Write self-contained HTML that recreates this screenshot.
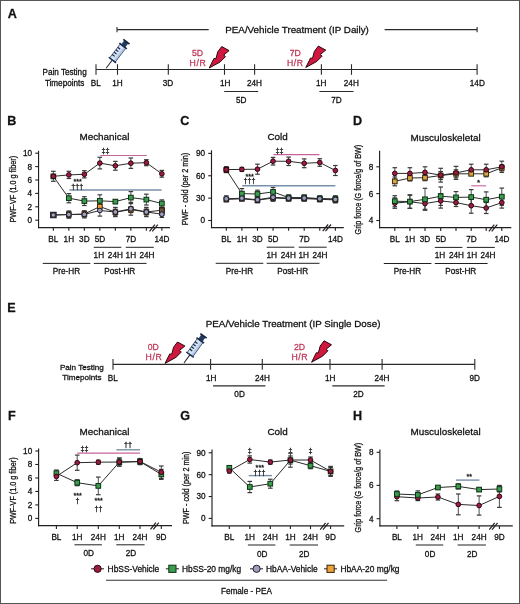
<!DOCTYPE html><html><head><meta charset="utf-8"><style>html,body{margin:0;padding:0;background:#fff;}svg{display:block;will-change:transform;}text{font-family:"Liberation Sans", sans-serif;stroke:currentColor;stroke-width:0.28px;}</style></head><body>
<svg width="520" height="604" viewBox="0 0 520 604">
<rect x="0" y="0" width="520" height="604" fill="#fff"/>
<rect x="0.5" y="0.5" width="519" height="603" fill="none" stroke="#555555" stroke-width="1"/>
<text x="7.7" y="17.8" font-size="12.6" text-anchor="start" fill="#111" color="#111" font-weight="bold" stroke="#111" stroke-width="0.35">A</text>
<line x1="117" y1="29.6" x2="208.7" y2="29.6" stroke="#2a2a2a" stroke-width="1.2"/>
<line x1="384.6" y1="29.6" x2="477.1" y2="29.6" stroke="#2a2a2a" stroke-width="1.2"/>
<line x1="117" y1="27" x2="117" y2="32.2" stroke="#2a2a2a" stroke-width="1.1"/>
<line x1="477.1" y1="27" x2="477.1" y2="32.2" stroke="#2a2a2a" stroke-width="1.1"/>
<text x="225.3" y="33.2" font-size="9.8" text-anchor="start" fill="#111111" color="#111111">PEA/Vehicle Treatment (IP Daily)</text>
<line x1="96" y1="69.5" x2="477.1" y2="69.5" stroke="#2a2a2a" stroke-width="1.2"/>
<line x1="96" y1="64.2" x2="96" y2="74.8" stroke="#2a2a2a" stroke-width="1.1"/>
<line x1="117.5" y1="64.2" x2="117.5" y2="74.8" stroke="#2a2a2a" stroke-width="1.1"/>
<line x1="168.3" y1="64.2" x2="168.3" y2="74.8" stroke="#2a2a2a" stroke-width="1.1"/>
<line x1="224.5" y1="64.2" x2="224.5" y2="74.8" stroke="#2a2a2a" stroke-width="1.1"/>
<line x1="254.6" y1="64.2" x2="254.6" y2="74.8" stroke="#2a2a2a" stroke-width="1.1"/>
<line x1="321.4" y1="64.2" x2="321.4" y2="74.8" stroke="#2a2a2a" stroke-width="1.1"/>
<line x1="351.5" y1="64.2" x2="351.5" y2="74.8" stroke="#2a2a2a" stroke-width="1.1"/>
<line x1="477.1" y1="64.2" x2="477.1" y2="74.8" stroke="#2a2a2a" stroke-width="1.1"/>
<text x="95.8" y="85.8" font-size="8.2" text-anchor="middle" fill="#111111" color="#111111">BL</text>
<text x="117.5" y="85.8" font-size="8.2" text-anchor="middle" fill="#111111" color="#111111">1H</text>
<text x="168" y="85.8" font-size="8.2" text-anchor="middle" fill="#111111" color="#111111">3D</text>
<text x="225.2" y="85.8" font-size="8.2" text-anchor="middle" fill="#111111" color="#111111">1H</text>
<text x="254.4" y="85.8" font-size="8.2" text-anchor="middle" fill="#111111" color="#111111">24H</text>
<text x="321.3" y="85.8" font-size="8.2" text-anchor="middle" fill="#111111" color="#111111">1H</text>
<text x="351.3" y="85.8" font-size="8.2" text-anchor="middle" fill="#111111" color="#111111">24H</text>
<text x="477.3" y="85.8" font-size="8.2" text-anchor="middle" fill="#111111" color="#111111">14D</text>
<text x="64.6" y="75.2" font-size="8.15" text-anchor="middle" fill="#111111" color="#111111">Pain Testing</text>
<text x="64.6" y="85.6" font-size="8.15" text-anchor="middle" fill="#111111" color="#111111">Timepoints</text>
<line x1="224.2" y1="91.4" x2="258.2" y2="91.4" stroke="#2a2a2a" stroke-width="1.05"/>
<line x1="319.4" y1="91.4" x2="353.5" y2="91.4" stroke="#2a2a2a" stroke-width="1.05"/>
<text x="241.2" y="102.7" font-size="8.2" text-anchor="middle" fill="#111111" color="#111111">5D</text>
<text x="336.4" y="102.7" font-size="8.2" text-anchor="middle" fill="#111111" color="#111111">7D</text>
<g transform="translate(106.1 68.2) rotate(-52.5)">
<defs><linearGradient id="bg106" x1="0" y1="0" x2="0" y2="1"><stop offset="0" stop-color="#c9daf0"/><stop offset="0.45" stop-color="#dce8f6"/><stop offset="1" stop-color="#a2bce0"/></linearGradient></defs>
<line x1="0" y1="0" x2="10.3" y2="0" stroke="#1a1a2a" stroke-width="0.95"/>
<rect x="10.3" y="-3.5" width="17.4" height="7" fill="url(#bg106)" stroke="#2b3c63" stroke-width="0.7"/>
<line x1="10.3" y1="-4.6" x2="10.3" y2="4.6" stroke="#1d2b4d" stroke-width="1.4"/>
<line x1="14.6" y1="-3.5" x2="14.6" y2="-0.4" stroke="#18264a" stroke-width="1.2"/>
<line x1="17.6" y1="-3.5" x2="17.6" y2="-0.4" stroke="#18264a" stroke-width="1.2"/>
<line x1="20.6" y1="-3.5" x2="20.6" y2="-0.4" stroke="#18264a" stroke-width="1.2"/>
<line x1="23.6" y1="-3.5" x2="23.6" y2="-0.4" stroke="#18264a" stroke-width="1.2"/>
<line x1="27.9" y1="-4.7" x2="27.9" y2="4.7" stroke="#1a2a4c" stroke-width="1.6"/>
<rect x="27.9" y="-2.2" width="5.2" height="4.4" fill="#203a60" stroke="#14223d" stroke-width="0.5"/>
<line x1="33.4" y1="-3.9" x2="33.4" y2="3.9" stroke="#14223d" stroke-width="1.7"/>
</g>
<polygon points="209.2,68 213.95,58.5 215.9,58.8 217.8,51.8 221.7,46.6 229.1,50.6 223.7,55 225.5,56.6 220.1,62 209.2,68" fill="#d0183e" stroke="#2a0810" stroke-width="1.0" stroke-linejoin="miter"/>
<polygon points="305.8,67.5 310.55,58 312.5,58.3 314.4,51.3 318.3,46.1 325.7,50.1 320.3,54.5 322.1,56.1 316.7,61.5 305.8,67.5" fill="#d0183e" stroke="#2a0810" stroke-width="1.0" stroke-linejoin="miter"/>
<text x="197.5" y="55.6" font-size="8.7" text-anchor="middle" fill="#bf3a5a" color="#bf3a5a">5D</text>
<text x="198" y="65.9" font-size="8.7" text-anchor="middle" fill="#bf3a5a" color="#bf3a5a" letter-spacing="0.6">H/R</text>
<text x="295.3" y="55.6" font-size="8.7" text-anchor="middle" fill="#bf3a5a" color="#bf3a5a">7D</text>
<text x="295.3" y="65.9" font-size="8.7" text-anchor="middle" fill="#bf3a5a" color="#bf3a5a" letter-spacing="0.6">H/R</text>
<text x="7.2" y="124.7" font-size="12.6" text-anchor="start" fill="#111" color="#111" font-weight="bold" stroke="#111" stroke-width="0.35">B</text>
<text x="104.4" y="140.4" font-size="9.9" text-anchor="middle" fill="#111111" color="#111111">Mechanical</text>
<line x1="38.55" y1="150.8" x2="38.55" y2="228.2" stroke="#231f20" stroke-width="1.15"/>
<line x1="38" y1="227.6" x2="170" y2="227.6" stroke="#231f20" stroke-width="1.25"/>
<line x1="35.25" y1="220.2" x2="38.55" y2="220.2" stroke="#231f20" stroke-width="1.1"/>
<text x="32.15" y="223.1" font-size="8.2" text-anchor="end" fill="#111111" color="#111111">0</text>
<line x1="35.25" y1="206.8" x2="38.55" y2="206.8" stroke="#231f20" stroke-width="1.1"/>
<text x="32.15" y="209.7" font-size="8.2" text-anchor="end" fill="#111111" color="#111111">2</text>
<line x1="35.25" y1="193.4" x2="38.55" y2="193.4" stroke="#231f20" stroke-width="1.1"/>
<text x="32.15" y="196.3" font-size="8.2" text-anchor="end" fill="#111111" color="#111111">4</text>
<line x1="35.25" y1="180" x2="38.55" y2="180" stroke="#231f20" stroke-width="1.1"/>
<text x="32.15" y="182.9" font-size="8.2" text-anchor="end" fill="#111111" color="#111111">6</text>
<line x1="35.25" y1="166.6" x2="38.55" y2="166.6" stroke="#231f20" stroke-width="1.1"/>
<text x="32.15" y="169.5" font-size="8.2" text-anchor="end" fill="#111111" color="#111111">8</text>
<line x1="35.25" y1="153.2" x2="38.55" y2="153.2" stroke="#231f20" stroke-width="1.1"/>
<text x="32.15" y="156.1" font-size="8.2" text-anchor="end" fill="#111111" color="#111111">10</text>
<line x1="53.35" y1="227.6" x2="53.35" y2="230.8" stroke="#231f20" stroke-width="1.1"/>
<line x1="68.85" y1="227.6" x2="68.85" y2="230.8" stroke="#231f20" stroke-width="1.1"/>
<line x1="84.35" y1="227.6" x2="84.35" y2="230.8" stroke="#231f20" stroke-width="1.1"/>
<line x1="99.85" y1="227.6" x2="99.85" y2="230.8" stroke="#231f20" stroke-width="1.1"/>
<line x1="115.35" y1="227.6" x2="115.35" y2="230.8" stroke="#231f20" stroke-width="1.1"/>
<line x1="130.85" y1="227.6" x2="130.85" y2="230.8" stroke="#231f20" stroke-width="1.1"/>
<line x1="146.35" y1="227.6" x2="146.35" y2="230.8" stroke="#231f20" stroke-width="1.1"/>
<line x1="161.85" y1="227.6" x2="161.85" y2="230.8" stroke="#231f20" stroke-width="1.1"/>
<text x="53.35" y="242.1" font-size="8.2" text-anchor="middle" fill="#111111" color="#111111">BL</text>
<text x="68.85" y="242.1" font-size="8.2" text-anchor="middle" fill="#111111" color="#111111">1H</text>
<text x="84.35" y="242.1" font-size="8.2" text-anchor="middle" fill="#111111" color="#111111">3D</text>
<text x="100.05" y="242.1" font-size="8.2" text-anchor="middle" fill="#111111" color="#111111">5D</text>
<text x="131.05" y="242.1" font-size="8.2" text-anchor="middle" fill="#111111" color="#111111">7D</text>
<text x="161.95" y="242.1" font-size="8.2" text-anchor="middle" fill="#111111" color="#111111">14D</text>
<line x1="149.5" y1="231.3" x2="154.9" y2="224.6" stroke="#231f20" stroke-width="1.2"/>
<line x1="152.3" y1="231.3" x2="157.8" y2="224.6" stroke="#231f20" stroke-width="1.2"/>
<text transform="translate(15.6 189.2) rotate(-90) scale(0.87 1)" font-size="8.3" text-anchor="middle" fill="#111111" color="#111111">PWF-VF (1.0 g fiber)</text>
<line x1="93.75" y1="247.3" x2="121.35" y2="247.3" stroke="#231f20" stroke-width="1"/>
<line x1="125.75" y1="247.3" x2="153.75" y2="247.3" stroke="#231f20" stroke-width="1"/>
<text x="98.85" y="257.9" font-size="8.2" text-anchor="middle" fill="#111111" color="#111111">1H</text>
<text x="115.35" y="257.9" font-size="8.2" text-anchor="middle" fill="#111111" color="#111111">24H</text>
<text x="130.85" y="257.9" font-size="8.2" text-anchor="middle" fill="#111111" color="#111111">1H</text>
<text x="146.95" y="257.9" font-size="8.2" text-anchor="middle" fill="#111111" color="#111111">24H</text>
<line x1="42.75" y1="263.4" x2="90.35" y2="263.4" stroke="#231f20" stroke-width="1"/>
<line x1="93.75" y1="263.4" x2="146.55" y2="263.4" stroke="#231f20" stroke-width="1"/>
<text x="66.45" y="273.8" font-size="8.2" text-anchor="middle" fill="#111111" color="#111111">Pre-HR</text>
<text x="119.75" y="273.8" font-size="8.2" text-anchor="middle" fill="#111111" color="#111111">Post-HR</text>
<line x1="100.3" y1="155.5" x2="146.8" y2="155.5" stroke="#c8649c" stroke-width="1.2"/>
<text x="105.6" y="153.4" font-size="7.2" text-anchor="middle" fill="#111111" color="#111111">‡‡</text>
<line x1="69.4" y1="190" x2="161.6" y2="190" stroke="#7890a8" stroke-width="1.4"/>
<text x="77.6" y="183.6" font-size="7.2" text-anchor="middle" fill="#111111" color="#111111">***</text>
<text x="77.3" y="189.2" font-size="7.2" text-anchor="middle" fill="#111111" color="#111111">†††</text>
<polyline points="53.35,215 68.85,214.5 84.35,214 99.85,206.6 115.35,212.2 130.85,209.6 146.35,212 161.85,210.2" fill="none" stroke="#2b2b2b" stroke-width="1" stroke-linejoin="round"/>
<polyline points="53.35,215 68.85,214.6 84.35,214.4 99.85,210.5 115.35,212 130.85,208.8 146.35,212 161.85,214.2" fill="none" stroke="#2b2b2b" stroke-width="1" stroke-linejoin="round"/>
<polyline points="53.35,176.4 68.85,198.2 84.35,201.1 99.85,200.8 115.35,201.6 130.85,197.6 146.35,199.6 161.85,203.5" fill="none" stroke="#2b2b2b" stroke-width="1" stroke-linejoin="round"/>
<polyline points="53.35,176.3 68.85,174.9 84.35,174.3 99.85,163.1 115.35,165.8 130.85,163.2 146.35,162.7 161.85,173.8" fill="none" stroke="#2b2b2b" stroke-width="1" stroke-linejoin="round"/>
<line x1="53.35" y1="214" x2="53.35" y2="216" stroke="#3a3a3a" stroke-width="0.9"/>
<line x1="51.05" y1="214" x2="55.65" y2="214" stroke="#3a3a3a" stroke-width="1.2"/>
<line x1="51.05" y1="216" x2="55.65" y2="216" stroke="#3a3a3a" stroke-width="1.2"/>
<line x1="68.85" y1="211.5" x2="68.85" y2="217.5" stroke="#3a3a3a" stroke-width="0.9"/>
<line x1="66.55" y1="211.5" x2="71.15" y2="211.5" stroke="#3a3a3a" stroke-width="1.2"/>
<line x1="66.55" y1="217.5" x2="71.15" y2="217.5" stroke="#3a3a3a" stroke-width="1.2"/>
<line x1="84.35" y1="211" x2="84.35" y2="217" stroke="#3a3a3a" stroke-width="0.9"/>
<line x1="82.05" y1="211" x2="86.65" y2="211" stroke="#3a3a3a" stroke-width="1.2"/>
<line x1="82.05" y1="217" x2="86.65" y2="217" stroke="#3a3a3a" stroke-width="1.2"/>
<line x1="99.85" y1="203.1" x2="99.85" y2="210.1" stroke="#3a3a3a" stroke-width="0.9"/>
<line x1="97.55" y1="203.1" x2="102.15" y2="203.1" stroke="#3a3a3a" stroke-width="1.2"/>
<line x1="97.55" y1="210.1" x2="102.15" y2="210.1" stroke="#3a3a3a" stroke-width="1.2"/>
<line x1="115.35" y1="209.2" x2="115.35" y2="215.2" stroke="#3a3a3a" stroke-width="0.9"/>
<line x1="113.05" y1="209.2" x2="117.65" y2="209.2" stroke="#3a3a3a" stroke-width="1.2"/>
<line x1="113.05" y1="215.2" x2="117.65" y2="215.2" stroke="#3a3a3a" stroke-width="1.2"/>
<line x1="130.85" y1="206.6" x2="130.85" y2="212.6" stroke="#3a3a3a" stroke-width="0.9"/>
<line x1="128.55" y1="206.6" x2="133.15" y2="206.6" stroke="#3a3a3a" stroke-width="1.2"/>
<line x1="128.55" y1="212.6" x2="133.15" y2="212.6" stroke="#3a3a3a" stroke-width="1.2"/>
<line x1="146.35" y1="209" x2="146.35" y2="215" stroke="#3a3a3a" stroke-width="0.9"/>
<line x1="144.05" y1="209" x2="148.65" y2="209" stroke="#3a3a3a" stroke-width="1.2"/>
<line x1="144.05" y1="215" x2="148.65" y2="215" stroke="#3a3a3a" stroke-width="1.2"/>
<line x1="161.85" y1="207.7" x2="161.85" y2="212.7" stroke="#3a3a3a" stroke-width="0.9"/>
<line x1="159.55" y1="207.7" x2="164.15" y2="207.7" stroke="#3a3a3a" stroke-width="1.2"/>
<line x1="159.55" y1="212.7" x2="164.15" y2="212.7" stroke="#3a3a3a" stroke-width="1.2"/>
<line x1="53.35" y1="213.5" x2="53.35" y2="216.5" stroke="#3a3a3a" stroke-width="0.9"/>
<line x1="51.05" y1="213.5" x2="55.65" y2="213.5" stroke="#3a3a3a" stroke-width="1.2"/>
<line x1="51.05" y1="216.5" x2="55.65" y2="216.5" stroke="#3a3a3a" stroke-width="1.2"/>
<line x1="68.85" y1="211" x2="68.85" y2="218.2" stroke="#3a3a3a" stroke-width="0.9"/>
<line x1="66.55" y1="211" x2="71.15" y2="211" stroke="#3a3a3a" stroke-width="1.2"/>
<line x1="66.55" y1="218.2" x2="71.15" y2="218.2" stroke="#3a3a3a" stroke-width="1.2"/>
<line x1="84.35" y1="210.9" x2="84.35" y2="217.9" stroke="#3a3a3a" stroke-width="0.9"/>
<line x1="82.05" y1="210.9" x2="86.65" y2="210.9" stroke="#3a3a3a" stroke-width="1.2"/>
<line x1="82.05" y1="217.9" x2="86.65" y2="217.9" stroke="#3a3a3a" stroke-width="1.2"/>
<line x1="99.85" y1="204.9" x2="99.85" y2="216.1" stroke="#3a3a3a" stroke-width="0.9"/>
<line x1="97.55" y1="204.9" x2="102.15" y2="204.9" stroke="#3a3a3a" stroke-width="1.2"/>
<line x1="97.55" y1="216.1" x2="102.15" y2="216.1" stroke="#3a3a3a" stroke-width="1.2"/>
<line x1="115.35" y1="207.4" x2="115.35" y2="216.6" stroke="#3a3a3a" stroke-width="0.9"/>
<line x1="113.05" y1="207.4" x2="117.65" y2="207.4" stroke="#3a3a3a" stroke-width="1.2"/>
<line x1="113.05" y1="216.6" x2="117.65" y2="216.6" stroke="#3a3a3a" stroke-width="1.2"/>
<line x1="130.85" y1="202.4" x2="130.85" y2="215.2" stroke="#3a3a3a" stroke-width="0.9"/>
<line x1="128.55" y1="202.4" x2="133.15" y2="202.4" stroke="#3a3a3a" stroke-width="1.2"/>
<line x1="128.55" y1="215.2" x2="133.15" y2="215.2" stroke="#3a3a3a" stroke-width="1.2"/>
<line x1="146.35" y1="207.4" x2="146.35" y2="216.6" stroke="#3a3a3a" stroke-width="0.9"/>
<line x1="144.05" y1="207.4" x2="148.65" y2="207.4" stroke="#3a3a3a" stroke-width="1.2"/>
<line x1="144.05" y1="216.6" x2="148.65" y2="216.6" stroke="#3a3a3a" stroke-width="1.2"/>
<line x1="161.85" y1="211" x2="161.85" y2="217.4" stroke="#3a3a3a" stroke-width="0.9"/>
<line x1="159.55" y1="211" x2="164.15" y2="211" stroke="#3a3a3a" stroke-width="1.2"/>
<line x1="159.55" y1="217.4" x2="164.15" y2="217.4" stroke="#3a3a3a" stroke-width="1.2"/>
<line x1="68.85" y1="193.6" x2="68.85" y2="202.8" stroke="#3a3a3a" stroke-width="0.9"/>
<line x1="66.55" y1="193.6" x2="71.15" y2="193.6" stroke="#3a3a3a" stroke-width="1.2"/>
<line x1="66.55" y1="202.8" x2="71.15" y2="202.8" stroke="#3a3a3a" stroke-width="1.2"/>
<line x1="84.35" y1="196.7" x2="84.35" y2="205.5" stroke="#3a3a3a" stroke-width="0.9"/>
<line x1="82.05" y1="196.7" x2="86.65" y2="196.7" stroke="#3a3a3a" stroke-width="1.2"/>
<line x1="82.05" y1="205.5" x2="86.65" y2="205.5" stroke="#3a3a3a" stroke-width="1.2"/>
<line x1="99.85" y1="194.8" x2="99.85" y2="206.8" stroke="#3a3a3a" stroke-width="0.9"/>
<line x1="97.55" y1="194.8" x2="102.15" y2="194.8" stroke="#3a3a3a" stroke-width="1.2"/>
<line x1="97.55" y1="206.8" x2="102.15" y2="206.8" stroke="#3a3a3a" stroke-width="1.2"/>
<line x1="115.35" y1="199.6" x2="115.35" y2="203.6" stroke="#3a3a3a" stroke-width="0.9"/>
<line x1="113.05" y1="199.6" x2="117.65" y2="199.6" stroke="#3a3a3a" stroke-width="1.2"/>
<line x1="113.05" y1="203.6" x2="117.65" y2="203.6" stroke="#3a3a3a" stroke-width="1.2"/>
<line x1="130.85" y1="191.6" x2="130.85" y2="203.6" stroke="#3a3a3a" stroke-width="0.9"/>
<line x1="128.55" y1="191.6" x2="133.15" y2="191.6" stroke="#3a3a3a" stroke-width="1.2"/>
<line x1="128.55" y1="203.6" x2="133.15" y2="203.6" stroke="#3a3a3a" stroke-width="1.2"/>
<line x1="146.35" y1="194.2" x2="146.35" y2="205" stroke="#3a3a3a" stroke-width="0.9"/>
<line x1="144.05" y1="194.2" x2="148.65" y2="194.2" stroke="#3a3a3a" stroke-width="1.2"/>
<line x1="144.05" y1="205" x2="148.65" y2="205" stroke="#3a3a3a" stroke-width="1.2"/>
<line x1="161.85" y1="199.9" x2="161.85" y2="207.1" stroke="#3a3a3a" stroke-width="0.9"/>
<line x1="159.55" y1="199.9" x2="164.15" y2="199.9" stroke="#3a3a3a" stroke-width="1.2"/>
<line x1="159.55" y1="207.1" x2="164.15" y2="207.1" stroke="#3a3a3a" stroke-width="1.2"/>
<line x1="53.35" y1="171.3" x2="53.35" y2="181.3" stroke="#3a3a3a" stroke-width="0.9"/>
<line x1="51.05" y1="171.3" x2="55.65" y2="171.3" stroke="#3a3a3a" stroke-width="1.2"/>
<line x1="51.05" y1="181.3" x2="55.65" y2="181.3" stroke="#3a3a3a" stroke-width="1.2"/>
<line x1="68.85" y1="171.3" x2="68.85" y2="178.5" stroke="#3a3a3a" stroke-width="0.9"/>
<line x1="66.55" y1="171.3" x2="71.15" y2="171.3" stroke="#3a3a3a" stroke-width="1.2"/>
<line x1="66.55" y1="178.5" x2="71.15" y2="178.5" stroke="#3a3a3a" stroke-width="1.2"/>
<line x1="84.35" y1="170.7" x2="84.35" y2="177.9" stroke="#3a3a3a" stroke-width="0.9"/>
<line x1="82.05" y1="170.7" x2="86.65" y2="170.7" stroke="#3a3a3a" stroke-width="1.2"/>
<line x1="82.05" y1="177.9" x2="86.65" y2="177.9" stroke="#3a3a3a" stroke-width="1.2"/>
<line x1="99.85" y1="157.3" x2="99.85" y2="168.9" stroke="#3a3a3a" stroke-width="0.9"/>
<line x1="97.55" y1="157.3" x2="102.15" y2="157.3" stroke="#3a3a3a" stroke-width="1.2"/>
<line x1="97.55" y1="168.9" x2="102.15" y2="168.9" stroke="#3a3a3a" stroke-width="1.2"/>
<line x1="115.35" y1="161.4" x2="115.35" y2="170.2" stroke="#3a3a3a" stroke-width="0.9"/>
<line x1="113.05" y1="161.4" x2="117.65" y2="161.4" stroke="#3a3a3a" stroke-width="1.2"/>
<line x1="113.05" y1="170.2" x2="117.65" y2="170.2" stroke="#3a3a3a" stroke-width="1.2"/>
<line x1="130.85" y1="158" x2="130.85" y2="168.4" stroke="#3a3a3a" stroke-width="0.9"/>
<line x1="128.55" y1="158" x2="133.15" y2="158" stroke="#3a3a3a" stroke-width="1.2"/>
<line x1="128.55" y1="168.4" x2="133.15" y2="168.4" stroke="#3a3a3a" stroke-width="1.2"/>
<line x1="146.35" y1="159.7" x2="146.35" y2="165.7" stroke="#3a3a3a" stroke-width="0.9"/>
<line x1="144.05" y1="159.7" x2="148.65" y2="159.7" stroke="#3a3a3a" stroke-width="1.2"/>
<line x1="144.05" y1="165.7" x2="148.65" y2="165.7" stroke="#3a3a3a" stroke-width="1.2"/>
<line x1="161.85" y1="170.4" x2="161.85" y2="177.2" stroke="#3a3a3a" stroke-width="0.9"/>
<line x1="159.55" y1="170.4" x2="164.15" y2="170.4" stroke="#3a3a3a" stroke-width="1.2"/>
<line x1="159.55" y1="177.2" x2="164.15" y2="177.2" stroke="#3a3a3a" stroke-width="1.2"/>
<rect x="51" y="212.65" width="4.7" height="4.7" fill="#eea23a" stroke="#3a230a" stroke-width="1"/>
<rect x="66.5" y="212.15" width="4.7" height="4.7" fill="#eea23a" stroke="#3a230a" stroke-width="1"/>
<rect x="82" y="211.65" width="4.7" height="4.7" fill="#eea23a" stroke="#3a230a" stroke-width="1"/>
<rect x="97.5" y="204.25" width="4.7" height="4.7" fill="#eea23a" stroke="#3a230a" stroke-width="1"/>
<rect x="113" y="209.85" width="4.7" height="4.7" fill="#eea23a" stroke="#3a230a" stroke-width="1"/>
<rect x="128.5" y="207.25" width="4.7" height="4.7" fill="#eea23a" stroke="#3a230a" stroke-width="1"/>
<rect x="144" y="209.65" width="4.7" height="4.7" fill="#eea23a" stroke="#3a230a" stroke-width="1"/>
<rect x="159.5" y="207.85" width="4.7" height="4.7" fill="#eea23a" stroke="#3a230a" stroke-width="1"/>
<circle cx="53.35" cy="215" r="2.35" fill="#9e9ebd" stroke="#1e1e30" stroke-width="1"/>
<circle cx="68.85" cy="214.6" r="2.35" fill="#9e9ebd" stroke="#1e1e30" stroke-width="1"/>
<circle cx="84.35" cy="214.4" r="2.35" fill="#9e9ebd" stroke="#1e1e30" stroke-width="1"/>
<circle cx="99.85" cy="210.5" r="2.35" fill="#9e9ebd" stroke="#1e1e30" stroke-width="1"/>
<circle cx="115.35" cy="212" r="2.35" fill="#9e9ebd" stroke="#1e1e30" stroke-width="1"/>
<circle cx="130.85" cy="208.8" r="2.35" fill="#9e9ebd" stroke="#1e1e30" stroke-width="1"/>
<circle cx="146.35" cy="212" r="2.35" fill="#9e9ebd" stroke="#1e1e30" stroke-width="1"/>
<circle cx="161.85" cy="214.2" r="2.35" fill="#9e9ebd" stroke="#1e1e30" stroke-width="1"/>
<rect x="51" y="174.05" width="4.7" height="4.7" fill="#3d9c4e" stroke="#0b3314" stroke-width="1"/>
<rect x="66.5" y="195.85" width="4.7" height="4.7" fill="#3d9c4e" stroke="#0b3314" stroke-width="1"/>
<rect x="82" y="198.75" width="4.7" height="4.7" fill="#3d9c4e" stroke="#0b3314" stroke-width="1"/>
<rect x="97.5" y="198.45" width="4.7" height="4.7" fill="#3d9c4e" stroke="#0b3314" stroke-width="1"/>
<rect x="113" y="199.25" width="4.7" height="4.7" fill="#3d9c4e" stroke="#0b3314" stroke-width="1"/>
<rect x="128.5" y="195.25" width="4.7" height="4.7" fill="#3d9c4e" stroke="#0b3314" stroke-width="1"/>
<rect x="144" y="197.25" width="4.7" height="4.7" fill="#3d9c4e" stroke="#0b3314" stroke-width="1"/>
<rect x="159.5" y="201.15" width="4.7" height="4.7" fill="#3d9c4e" stroke="#0b3314" stroke-width="1"/>
<circle cx="53.35" cy="176.3" r="2.35" fill="#9a1d40" stroke="#2e0610" stroke-width="1"/>
<circle cx="68.85" cy="174.9" r="2.35" fill="#9a1d40" stroke="#2e0610" stroke-width="1"/>
<circle cx="84.35" cy="174.3" r="2.35" fill="#9a1d40" stroke="#2e0610" stroke-width="1"/>
<circle cx="99.85" cy="163.1" r="2.35" fill="#9a1d40" stroke="#2e0610" stroke-width="1"/>
<circle cx="115.35" cy="165.8" r="2.35" fill="#9a1d40" stroke="#2e0610" stroke-width="1"/>
<circle cx="130.85" cy="163.2" r="2.35" fill="#9a1d40" stroke="#2e0610" stroke-width="1"/>
<circle cx="146.35" cy="162.7" r="2.35" fill="#9a1d40" stroke="#2e0610" stroke-width="1"/>
<circle cx="161.85" cy="173.8" r="2.35" fill="#9a1d40" stroke="#2e0610" stroke-width="1"/>
<rect x="50.6" y="212.25" width="5.5" height="5.5" fill="#3a3a46" stroke="#222230" stroke-width="1"/>
<rect x="159.5" y="207.85" width="4.7" height="4.7" fill="#6e5040" stroke="#2a1a10" stroke-width="1"/>
<circle cx="161.85" cy="214.2" r="2.35" fill="#9e9ebd" stroke="#1e1e30" stroke-width="1"/>
<circle cx="53.35" cy="215" r="1.6" fill="#a9a9bf"/>
<text x="180.2" y="124.7" font-size="12.6" text-anchor="start" fill="#111" color="#111" font-weight="bold" stroke="#111" stroke-width="0.35">C</text>
<text x="277.6" y="140.4" font-size="9.9" text-anchor="middle" fill="#111111" color="#111111">Cold</text>
<line x1="211.5" y1="150.3" x2="211.5" y2="228.1" stroke="#231f20" stroke-width="1.15"/>
<line x1="210.95" y1="227.5" x2="343.8" y2="227.5" stroke="#231f20" stroke-width="1.25"/>
<line x1="208.2" y1="220.5" x2="211.5" y2="220.5" stroke="#231f20" stroke-width="1.1"/>
<text x="205.1" y="223.4" font-size="8.2" text-anchor="end" fill="#111111" color="#111111">0</text>
<line x1="208.2" y1="198.13" x2="211.5" y2="198.13" stroke="#231f20" stroke-width="1.1"/>
<text x="205.1" y="201.03" font-size="8.2" text-anchor="end" fill="#111111" color="#111111">30</text>
<line x1="208.2" y1="175.76" x2="211.5" y2="175.76" stroke="#231f20" stroke-width="1.1"/>
<text x="205.1" y="178.66" font-size="8.2" text-anchor="end" fill="#111111" color="#111111">60</text>
<line x1="208.2" y1="153.39" x2="211.5" y2="153.39" stroke="#231f20" stroke-width="1.1"/>
<text x="205.1" y="156.29" font-size="8.2" text-anchor="end" fill="#111111" color="#111111">90</text>
<line x1="226.3" y1="227.5" x2="226.3" y2="230.7" stroke="#231f20" stroke-width="1.1"/>
<line x1="241.88" y1="227.5" x2="241.88" y2="230.7" stroke="#231f20" stroke-width="1.1"/>
<line x1="257.46" y1="227.5" x2="257.46" y2="230.7" stroke="#231f20" stroke-width="1.1"/>
<line x1="273.04" y1="227.5" x2="273.04" y2="230.7" stroke="#231f20" stroke-width="1.1"/>
<line x1="288.62" y1="227.5" x2="288.62" y2="230.7" stroke="#231f20" stroke-width="1.1"/>
<line x1="304.2" y1="227.5" x2="304.2" y2="230.7" stroke="#231f20" stroke-width="1.1"/>
<line x1="319.78" y1="227.5" x2="319.78" y2="230.7" stroke="#231f20" stroke-width="1.1"/>
<line x1="335.36" y1="227.5" x2="335.36" y2="230.7" stroke="#231f20" stroke-width="1.1"/>
<text x="226.3" y="242" font-size="8.2" text-anchor="middle" fill="#111111" color="#111111">BL</text>
<text x="241.88" y="242" font-size="8.2" text-anchor="middle" fill="#111111" color="#111111">1H</text>
<text x="257.46" y="242" font-size="8.2" text-anchor="middle" fill="#111111" color="#111111">3D</text>
<text x="273.24" y="242" font-size="8.2" text-anchor="middle" fill="#111111" color="#111111">5D</text>
<text x="304.4" y="242" font-size="8.2" text-anchor="middle" fill="#111111" color="#111111">7D</text>
<text x="335.46" y="242" font-size="8.2" text-anchor="middle" fill="#111111" color="#111111">14D</text>
<line x1="322.7" y1="231.2" x2="328.1" y2="224.5" stroke="#231f20" stroke-width="1.2"/>
<line x1="325.5" y1="231.2" x2="331" y2="224.5" stroke="#231f20" stroke-width="1.2"/>
<text transform="translate(188.4 189) rotate(-90) scale(0.87 1)" font-size="8.3" text-anchor="middle" fill="#111111" color="#111111">PWF - cold (per 2 min)</text>
<line x1="266.7" y1="247.2" x2="294.3" y2="247.2" stroke="#231f20" stroke-width="1"/>
<line x1="298.7" y1="247.2" x2="326.7" y2="247.2" stroke="#231f20" stroke-width="1"/>
<text x="271.8" y="257.8" font-size="8.2" text-anchor="middle" fill="#111111" color="#111111">1H</text>
<text x="288.3" y="257.8" font-size="8.2" text-anchor="middle" fill="#111111" color="#111111">24H</text>
<text x="303.8" y="257.8" font-size="8.2" text-anchor="middle" fill="#111111" color="#111111">1H</text>
<text x="319.9" y="257.8" font-size="8.2" text-anchor="middle" fill="#111111" color="#111111">24H</text>
<line x1="215.7" y1="263.3" x2="263.3" y2="263.3" stroke="#231f20" stroke-width="1"/>
<line x1="266.7" y1="263.3" x2="319.5" y2="263.3" stroke="#231f20" stroke-width="1"/>
<text x="239.4" y="273.7" font-size="8.2" text-anchor="middle" fill="#111111" color="#111111">Pre-HR</text>
<text x="292.7" y="273.7" font-size="8.2" text-anchor="middle" fill="#111111" color="#111111">Post-HR</text>
<line x1="273.3" y1="154.6" x2="319.5" y2="154.6" stroke="#c8649c" stroke-width="1.1"/>
<text x="279.4" y="152.6" font-size="7.2" text-anchor="middle" fill="#111111" color="#111111">‡‡</text>
<line x1="242.2" y1="185.7" x2="335.4" y2="185.7" stroke="#7890a8" stroke-width="1.4"/>
<text x="249.6" y="178.8" font-size="7.2" text-anchor="middle" fill="#111111" color="#111111">***</text>
<text x="249.4" y="183.4" font-size="7.2" text-anchor="middle" fill="#111111" color="#111111">†††</text>
<polyline points="226.3,199.4 241.88,198.8 257.46,200.2 273.04,198 288.62,198.6 304.2,198.6 319.78,199.3 335.36,199.9" fill="none" stroke="#2b2b2b" stroke-width="1" stroke-linejoin="round"/>
<polyline points="226.3,169.8 241.88,193.6 257.46,194 273.04,191.9 288.62,197.6 304.2,197.6 319.78,198.6 335.36,199" fill="none" stroke="#2b2b2b" stroke-width="1" stroke-linejoin="round"/>
<polyline points="226.3,198.8 241.88,198.2 257.46,199.8 273.04,197.3 288.62,198.1 304.2,198.1 319.78,198.8 335.36,199.4" fill="none" stroke="#2b2b2b" stroke-width="1" stroke-linejoin="round"/>
<polyline points="226.3,169.6 241.88,169.4 257.46,169.2 273.04,161.2 288.62,161.3 304.2,163.3 319.78,162.5 335.36,170.5" fill="none" stroke="#2b2b2b" stroke-width="1" stroke-linejoin="round"/>
<line x1="226.3" y1="197.9" x2="226.3" y2="200.9" stroke="#3a3a3a" stroke-width="0.9"/>
<line x1="224" y1="197.9" x2="228.6" y2="197.9" stroke="#3a3a3a" stroke-width="1.2"/>
<line x1="224" y1="200.9" x2="228.6" y2="200.9" stroke="#3a3a3a" stroke-width="1.2"/>
<line x1="241.88" y1="197.3" x2="241.88" y2="200.3" stroke="#3a3a3a" stroke-width="0.9"/>
<line x1="239.58" y1="197.3" x2="244.18" y2="197.3" stroke="#3a3a3a" stroke-width="1.2"/>
<line x1="239.58" y1="200.3" x2="244.18" y2="200.3" stroke="#3a3a3a" stroke-width="1.2"/>
<line x1="257.46" y1="198.7" x2="257.46" y2="201.7" stroke="#3a3a3a" stroke-width="0.9"/>
<line x1="255.16" y1="198.7" x2="259.76" y2="198.7" stroke="#3a3a3a" stroke-width="1.2"/>
<line x1="255.16" y1="201.7" x2="259.76" y2="201.7" stroke="#3a3a3a" stroke-width="1.2"/>
<line x1="273.04" y1="196.5" x2="273.04" y2="199.5" stroke="#3a3a3a" stroke-width="0.9"/>
<line x1="270.74" y1="196.5" x2="275.34" y2="196.5" stroke="#3a3a3a" stroke-width="1.2"/>
<line x1="270.74" y1="199.5" x2="275.34" y2="199.5" stroke="#3a3a3a" stroke-width="1.2"/>
<line x1="288.62" y1="197.1" x2="288.62" y2="200.1" stroke="#3a3a3a" stroke-width="0.9"/>
<line x1="286.32" y1="197.1" x2="290.92" y2="197.1" stroke="#3a3a3a" stroke-width="1.2"/>
<line x1="286.32" y1="200.1" x2="290.92" y2="200.1" stroke="#3a3a3a" stroke-width="1.2"/>
<line x1="304.2" y1="197.1" x2="304.2" y2="200.1" stroke="#3a3a3a" stroke-width="0.9"/>
<line x1="301.9" y1="197.1" x2="306.5" y2="197.1" stroke="#3a3a3a" stroke-width="1.2"/>
<line x1="301.9" y1="200.1" x2="306.5" y2="200.1" stroke="#3a3a3a" stroke-width="1.2"/>
<line x1="319.78" y1="197.8" x2="319.78" y2="200.8" stroke="#3a3a3a" stroke-width="0.9"/>
<line x1="317.48" y1="197.8" x2="322.08" y2="197.8" stroke="#3a3a3a" stroke-width="1.2"/>
<line x1="317.48" y1="200.8" x2="322.08" y2="200.8" stroke="#3a3a3a" stroke-width="1.2"/>
<line x1="335.36" y1="198.4" x2="335.36" y2="201.4" stroke="#3a3a3a" stroke-width="0.9"/>
<line x1="333.06" y1="198.4" x2="337.66" y2="198.4" stroke="#3a3a3a" stroke-width="1.2"/>
<line x1="333.06" y1="201.4" x2="337.66" y2="201.4" stroke="#3a3a3a" stroke-width="1.2"/>
<line x1="241.88" y1="188.6" x2="241.88" y2="198.6" stroke="#3a3a3a" stroke-width="0.9"/>
<line x1="239.58" y1="188.6" x2="244.18" y2="188.6" stroke="#3a3a3a" stroke-width="1.2"/>
<line x1="239.58" y1="198.6" x2="244.18" y2="198.6" stroke="#3a3a3a" stroke-width="1.2"/>
<line x1="257.46" y1="190.2" x2="257.46" y2="197.8" stroke="#3a3a3a" stroke-width="0.9"/>
<line x1="255.16" y1="190.2" x2="259.76" y2="190.2" stroke="#3a3a3a" stroke-width="1.2"/>
<line x1="255.16" y1="197.8" x2="259.76" y2="197.8" stroke="#3a3a3a" stroke-width="1.2"/>
<line x1="273.04" y1="187.5" x2="273.04" y2="196.3" stroke="#3a3a3a" stroke-width="0.9"/>
<line x1="270.74" y1="187.5" x2="275.34" y2="187.5" stroke="#3a3a3a" stroke-width="1.2"/>
<line x1="270.74" y1="196.3" x2="275.34" y2="196.3" stroke="#3a3a3a" stroke-width="1.2"/>
<line x1="288.62" y1="195.1" x2="288.62" y2="200.1" stroke="#3a3a3a" stroke-width="0.9"/>
<line x1="286.32" y1="195.1" x2="290.92" y2="195.1" stroke="#3a3a3a" stroke-width="1.2"/>
<line x1="286.32" y1="200.1" x2="290.92" y2="200.1" stroke="#3a3a3a" stroke-width="1.2"/>
<line x1="304.2" y1="195.1" x2="304.2" y2="200.1" stroke="#3a3a3a" stroke-width="0.9"/>
<line x1="301.9" y1="195.1" x2="306.5" y2="195.1" stroke="#3a3a3a" stroke-width="1.2"/>
<line x1="301.9" y1="200.1" x2="306.5" y2="200.1" stroke="#3a3a3a" stroke-width="1.2"/>
<line x1="319.78" y1="196.1" x2="319.78" y2="201.1" stroke="#3a3a3a" stroke-width="0.9"/>
<line x1="317.48" y1="196.1" x2="322.08" y2="196.1" stroke="#3a3a3a" stroke-width="1.2"/>
<line x1="317.48" y1="201.1" x2="322.08" y2="201.1" stroke="#3a3a3a" stroke-width="1.2"/>
<line x1="335.36" y1="196" x2="335.36" y2="202" stroke="#3a3a3a" stroke-width="0.9"/>
<line x1="333.06" y1="196" x2="337.66" y2="196" stroke="#3a3a3a" stroke-width="1.2"/>
<line x1="333.06" y1="202" x2="337.66" y2="202" stroke="#3a3a3a" stroke-width="1.2"/>
<line x1="226.3" y1="195.8" x2="226.3" y2="201.8" stroke="#3a3a3a" stroke-width="0.9"/>
<line x1="224" y1="195.8" x2="228.6" y2="195.8" stroke="#3a3a3a" stroke-width="1.2"/>
<line x1="224" y1="201.8" x2="228.6" y2="201.8" stroke="#3a3a3a" stroke-width="1.2"/>
<line x1="241.88" y1="195.7" x2="241.88" y2="200.7" stroke="#3a3a3a" stroke-width="0.9"/>
<line x1="239.58" y1="195.7" x2="244.18" y2="195.7" stroke="#3a3a3a" stroke-width="1.2"/>
<line x1="239.58" y1="200.7" x2="244.18" y2="200.7" stroke="#3a3a3a" stroke-width="1.2"/>
<line x1="257.46" y1="196.8" x2="257.46" y2="202.8" stroke="#3a3a3a" stroke-width="0.9"/>
<line x1="255.16" y1="196.8" x2="259.76" y2="196.8" stroke="#3a3a3a" stroke-width="1.2"/>
<line x1="255.16" y1="202.8" x2="259.76" y2="202.8" stroke="#3a3a3a" stroke-width="1.2"/>
<line x1="273.04" y1="193.3" x2="273.04" y2="201.3" stroke="#3a3a3a" stroke-width="0.9"/>
<line x1="270.74" y1="193.3" x2="275.34" y2="193.3" stroke="#3a3a3a" stroke-width="1.2"/>
<line x1="270.74" y1="201.3" x2="275.34" y2="201.3" stroke="#3a3a3a" stroke-width="1.2"/>
<line x1="288.62" y1="195.1" x2="288.62" y2="201.1" stroke="#3a3a3a" stroke-width="0.9"/>
<line x1="286.32" y1="195.1" x2="290.92" y2="195.1" stroke="#3a3a3a" stroke-width="1.2"/>
<line x1="286.32" y1="201.1" x2="290.92" y2="201.1" stroke="#3a3a3a" stroke-width="1.2"/>
<line x1="304.2" y1="195.1" x2="304.2" y2="201.1" stroke="#3a3a3a" stroke-width="0.9"/>
<line x1="301.9" y1="195.1" x2="306.5" y2="195.1" stroke="#3a3a3a" stroke-width="1.2"/>
<line x1="301.9" y1="201.1" x2="306.5" y2="201.1" stroke="#3a3a3a" stroke-width="1.2"/>
<line x1="319.78" y1="195.8" x2="319.78" y2="201.8" stroke="#3a3a3a" stroke-width="0.9"/>
<line x1="317.48" y1="195.8" x2="322.08" y2="195.8" stroke="#3a3a3a" stroke-width="1.2"/>
<line x1="317.48" y1="201.8" x2="322.08" y2="201.8" stroke="#3a3a3a" stroke-width="1.2"/>
<line x1="335.36" y1="195.9" x2="335.36" y2="202.9" stroke="#3a3a3a" stroke-width="0.9"/>
<line x1="333.06" y1="195.9" x2="337.66" y2="195.9" stroke="#3a3a3a" stroke-width="1.2"/>
<line x1="333.06" y1="202.9" x2="337.66" y2="202.9" stroke="#3a3a3a" stroke-width="1.2"/>
<line x1="226.3" y1="166.6" x2="226.3" y2="172.6" stroke="#3a3a3a" stroke-width="0.9"/>
<line x1="224" y1="166.6" x2="228.6" y2="166.6" stroke="#3a3a3a" stroke-width="1.2"/>
<line x1="224" y1="172.6" x2="228.6" y2="172.6" stroke="#3a3a3a" stroke-width="1.2"/>
<line x1="241.88" y1="167.4" x2="241.88" y2="171.4" stroke="#3a3a3a" stroke-width="0.9"/>
<line x1="239.58" y1="167.4" x2="244.18" y2="167.4" stroke="#3a3a3a" stroke-width="1.2"/>
<line x1="239.58" y1="171.4" x2="244.18" y2="171.4" stroke="#3a3a3a" stroke-width="1.2"/>
<line x1="257.46" y1="164.2" x2="257.46" y2="174.2" stroke="#3a3a3a" stroke-width="0.9"/>
<line x1="255.16" y1="164.2" x2="259.76" y2="164.2" stroke="#3a3a3a" stroke-width="1.2"/>
<line x1="255.16" y1="174.2" x2="259.76" y2="174.2" stroke="#3a3a3a" stroke-width="1.2"/>
<line x1="273.04" y1="157.4" x2="273.04" y2="165" stroke="#3a3a3a" stroke-width="0.9"/>
<line x1="270.74" y1="157.4" x2="275.34" y2="157.4" stroke="#3a3a3a" stroke-width="1.2"/>
<line x1="270.74" y1="165" x2="275.34" y2="165" stroke="#3a3a3a" stroke-width="1.2"/>
<line x1="288.62" y1="157.1" x2="288.62" y2="165.5" stroke="#3a3a3a" stroke-width="0.9"/>
<line x1="286.32" y1="157.1" x2="290.92" y2="157.1" stroke="#3a3a3a" stroke-width="1.2"/>
<line x1="286.32" y1="165.5" x2="290.92" y2="165.5" stroke="#3a3a3a" stroke-width="1.2"/>
<line x1="304.2" y1="158.9" x2="304.2" y2="167.7" stroke="#3a3a3a" stroke-width="0.9"/>
<line x1="301.9" y1="158.9" x2="306.5" y2="158.9" stroke="#3a3a3a" stroke-width="1.2"/>
<line x1="301.9" y1="167.7" x2="306.5" y2="167.7" stroke="#3a3a3a" stroke-width="1.2"/>
<line x1="319.78" y1="158.7" x2="319.78" y2="166.3" stroke="#3a3a3a" stroke-width="0.9"/>
<line x1="317.48" y1="158.7" x2="322.08" y2="158.7" stroke="#3a3a3a" stroke-width="1.2"/>
<line x1="317.48" y1="166.3" x2="322.08" y2="166.3" stroke="#3a3a3a" stroke-width="1.2"/>
<line x1="335.36" y1="165.5" x2="335.36" y2="175.5" stroke="#3a3a3a" stroke-width="0.9"/>
<line x1="333.06" y1="165.5" x2="337.66" y2="165.5" stroke="#3a3a3a" stroke-width="1.2"/>
<line x1="333.06" y1="175.5" x2="337.66" y2="175.5" stroke="#3a3a3a" stroke-width="1.2"/>
<rect x="223.95" y="197.05" width="4.7" height="4.7" fill="#6e5040" stroke="#2a1a10" stroke-width="1"/>
<rect x="239.53" y="196.45" width="4.7" height="4.7" fill="#6e5040" stroke="#2a1a10" stroke-width="1"/>
<rect x="255.11" y="197.85" width="4.7" height="4.7" fill="#6e5040" stroke="#2a1a10" stroke-width="1"/>
<rect x="270.69" y="195.65" width="4.7" height="4.7" fill="#6e5040" stroke="#2a1a10" stroke-width="1"/>
<rect x="286.27" y="196.25" width="4.7" height="4.7" fill="#6e5040" stroke="#2a1a10" stroke-width="1"/>
<rect x="301.85" y="196.25" width="4.7" height="4.7" fill="#6e5040" stroke="#2a1a10" stroke-width="1"/>
<rect x="317.43" y="196.95" width="4.7" height="4.7" fill="#6e5040" stroke="#2a1a10" stroke-width="1"/>
<rect x="333.01" y="197.55" width="4.7" height="4.7" fill="#6e5040" stroke="#2a1a10" stroke-width="1"/>
<rect x="223.95" y="167.45" width="4.7" height="4.7" fill="#5a1a2a" stroke="#2a0a12" stroke-width="1"/>
<rect x="239.53" y="191.25" width="4.7" height="4.7" fill="#3d9c4e" stroke="#0b3314" stroke-width="1"/>
<rect x="255.11" y="191.65" width="4.7" height="4.7" fill="#3d9c4e" stroke="#0b3314" stroke-width="1"/>
<rect x="270.69" y="189.55" width="4.7" height="4.7" fill="#3d9c4e" stroke="#0b3314" stroke-width="1"/>
<rect x="286.27" y="195.25" width="4.7" height="4.7" fill="#3d9c4e" stroke="#0b3314" stroke-width="1"/>
<rect x="301.85" y="195.25" width="4.7" height="4.7" fill="#3d9c4e" stroke="#0b3314" stroke-width="1"/>
<rect x="317.43" y="196.25" width="4.7" height="4.7" fill="#3d9c4e" stroke="#0b3314" stroke-width="1"/>
<rect x="333.01" y="196.65" width="4.7" height="4.7" fill="#3d9c4e" stroke="#0b3314" stroke-width="1"/>
<circle cx="226.3" cy="198.8" r="2.35" fill="#9e9ebd" stroke="#1e1e30" stroke-width="1"/>
<circle cx="241.88" cy="198.2" r="2.35" fill="#9e9ebd" stroke="#1e1e30" stroke-width="1"/>
<circle cx="257.46" cy="199.8" r="2.35" fill="#9e9ebd" stroke="#1e1e30" stroke-width="1"/>
<circle cx="273.04" cy="197.3" r="2.35" fill="#9e9ebd" stroke="#1e1e30" stroke-width="1"/>
<circle cx="288.62" cy="198.1" r="2.35" fill="#9e9ebd" stroke="#1e1e30" stroke-width="1"/>
<circle cx="304.2" cy="198.1" r="2.35" fill="#9e9ebd" stroke="#1e1e30" stroke-width="1"/>
<circle cx="319.78" cy="198.8" r="2.35" fill="#9e9ebd" stroke="#1e1e30" stroke-width="1"/>
<circle cx="335.36" cy="199.4" r="2.35" fill="#9e9ebd" stroke="#1e1e30" stroke-width="1"/>
<circle cx="226.3" cy="169.6" r="2.35" fill="#9a1d40" stroke="#2e0610" stroke-width="1"/>
<circle cx="241.88" cy="169.4" r="2.35" fill="#9a1d40" stroke="#2e0610" stroke-width="1"/>
<circle cx="257.46" cy="169.2" r="2.35" fill="#9a1d40" stroke="#2e0610" stroke-width="1"/>
<circle cx="273.04" cy="161.2" r="2.35" fill="#9a1d40" stroke="#2e0610" stroke-width="1"/>
<circle cx="288.62" cy="161.3" r="2.35" fill="#9a1d40" stroke="#2e0610" stroke-width="1"/>
<circle cx="304.2" cy="163.3" r="2.35" fill="#9a1d40" stroke="#2e0610" stroke-width="1"/>
<circle cx="319.78" cy="162.5" r="2.35" fill="#9a1d40" stroke="#2e0610" stroke-width="1"/>
<circle cx="335.36" cy="170.5" r="2.35" fill="#9a1d40" stroke="#2e0610" stroke-width="1"/>
<text x="353" y="124.7" font-size="12.6" text-anchor="start" fill="#111" color="#111" font-weight="bold" stroke="#111" stroke-width="0.35">D</text>
<text x="445.6" y="140.6" font-size="9.9" text-anchor="middle" fill="#111111" color="#111111">Musculoskeletal</text>
<line x1="379.6" y1="150.7" x2="379.6" y2="228.3" stroke="#231f20" stroke-width="1.15"/>
<line x1="379.05" y1="227.7" x2="511.3" y2="227.7" stroke="#231f20" stroke-width="1.25"/>
<line x1="376.3" y1="220.5" x2="379.6" y2="220.5" stroke="#231f20" stroke-width="1.1"/>
<text x="373.2" y="223.4" font-size="8.2" text-anchor="end" fill="#111111" color="#111111">4</text>
<line x1="376.3" y1="193.6" x2="379.6" y2="193.6" stroke="#231f20" stroke-width="1.1"/>
<text x="373.2" y="196.5" font-size="8.2" text-anchor="end" fill="#111111" color="#111111">6</text>
<line x1="376.3" y1="166.8" x2="379.6" y2="166.8" stroke="#231f20" stroke-width="1.1"/>
<text x="373.2" y="169.7" font-size="8.2" text-anchor="end" fill="#111111" color="#111111">8</text>
<line x1="394.8" y1="227.7" x2="394.8" y2="230.9" stroke="#231f20" stroke-width="1.1"/>
<line x1="409.9" y1="227.7" x2="409.9" y2="230.9" stroke="#231f20" stroke-width="1.1"/>
<line x1="425" y1="227.7" x2="425" y2="230.9" stroke="#231f20" stroke-width="1.1"/>
<line x1="440.7" y1="227.7" x2="440.7" y2="230.9" stroke="#231f20" stroke-width="1.1"/>
<line x1="456" y1="227.7" x2="456" y2="230.9" stroke="#231f20" stroke-width="1.1"/>
<line x1="471.2" y1="227.7" x2="471.2" y2="230.9" stroke="#231f20" stroke-width="1.1"/>
<line x1="486.2" y1="227.7" x2="486.2" y2="230.9" stroke="#231f20" stroke-width="1.1"/>
<line x1="501.8" y1="227.7" x2="501.8" y2="230.9" stroke="#231f20" stroke-width="1.1"/>
<text x="394.8" y="242.2" font-size="8.2" text-anchor="middle" fill="#111111" color="#111111">BL</text>
<text x="409.9" y="242.2" font-size="8.2" text-anchor="middle" fill="#111111" color="#111111">1H</text>
<text x="425" y="242.2" font-size="8.2" text-anchor="middle" fill="#111111" color="#111111">3D</text>
<text x="440.9" y="242.2" font-size="8.2" text-anchor="middle" fill="#111111" color="#111111">5D</text>
<text x="471.4" y="242.2" font-size="8.2" text-anchor="middle" fill="#111111" color="#111111">7D</text>
<text x="501.9" y="242.2" font-size="8.2" text-anchor="middle" fill="#111111" color="#111111">14D</text>
<line x1="488.9" y1="231.4" x2="494.3" y2="224.7" stroke="#231f20" stroke-width="1.2"/>
<line x1="491.7" y1="231.4" x2="497.2" y2="224.7" stroke="#231f20" stroke-width="1.2"/>
<text transform="translate(361.4 189.6) rotate(-90) scale(0.87 1)" font-size="8.3" text-anchor="middle" fill="#111111" color="#111111">Grip force (G force/g of BW)</text>
<line x1="434.8" y1="247.4" x2="462.4" y2="247.4" stroke="#231f20" stroke-width="1"/>
<line x1="466.8" y1="247.4" x2="494.8" y2="247.4" stroke="#231f20" stroke-width="1"/>
<text x="439.9" y="258" font-size="8.2" text-anchor="middle" fill="#111111" color="#111111">1H</text>
<text x="456.4" y="258" font-size="8.2" text-anchor="middle" fill="#111111" color="#111111">24H</text>
<text x="471.9" y="258" font-size="8.2" text-anchor="middle" fill="#111111" color="#111111">1H</text>
<text x="488" y="258" font-size="8.2" text-anchor="middle" fill="#111111" color="#111111">24H</text>
<line x1="383.8" y1="263.5" x2="431.4" y2="263.5" stroke="#231f20" stroke-width="1"/>
<line x1="434.8" y1="263.5" x2="487.6" y2="263.5" stroke="#231f20" stroke-width="1"/>
<text x="407.5" y="273.9" font-size="8.2" text-anchor="middle" fill="#111111" color="#111111">Pre-HR</text>
<text x="460.8" y="273.9" font-size="8.2" text-anchor="middle" fill="#111111" color="#111111">Post-HR</text>
<line x1="471.2" y1="185.8" x2="486.2" y2="185.8" stroke="#c8649c" stroke-width="1.1"/>
<text x="478.6" y="184.6" font-size="8" text-anchor="middle" fill="#111111" color="#111111">*</text>
<polyline points="394.8,181.4 409.9,178 425,177.7 440.7,175.5 456,173.8 471.2,173.8 486.2,173.8 501.8,167.8" fill="none" stroke="#2b2b2b" stroke-width="1" stroke-linejoin="round"/>
<polyline points="394.8,173.4 409.9,173.4 425,172.4 440.7,175.2 456,172.9 471.2,169.8 486.2,169.8 501.8,166.8" fill="none" stroke="#2b2b2b" stroke-width="1" stroke-linejoin="round"/>
<polyline points="394.8,203.1 409.9,201.8 425,203.6 440.7,200.9 456,202.6 471.2,205.7 486.2,208 501.8,202.6" fill="none" stroke="#2b2b2b" stroke-width="1" stroke-linejoin="round"/>
<polyline points="394.8,201.2 409.9,201.6 425,199.3 440.7,196.2 456,197.4 471.2,197.1 486.2,199.7 501.8,196.7" fill="none" stroke="#2b2b2b" stroke-width="1" stroke-linejoin="round"/>
<line x1="394.8" y1="177" x2="394.8" y2="185.8" stroke="#3a3a3a" stroke-width="0.9"/>
<line x1="392.5" y1="177" x2="397.1" y2="177" stroke="#3a3a3a" stroke-width="1.2"/>
<line x1="392.5" y1="185.8" x2="397.1" y2="185.8" stroke="#3a3a3a" stroke-width="1.2"/>
<line x1="409.9" y1="175" x2="409.9" y2="181" stroke="#3a3a3a" stroke-width="0.9"/>
<line x1="407.6" y1="175" x2="412.2" y2="175" stroke="#3a3a3a" stroke-width="1.2"/>
<line x1="407.6" y1="181" x2="412.2" y2="181" stroke="#3a3a3a" stroke-width="1.2"/>
<line x1="425" y1="174.7" x2="425" y2="180.7" stroke="#3a3a3a" stroke-width="0.9"/>
<line x1="422.7" y1="174.7" x2="427.3" y2="174.7" stroke="#3a3a3a" stroke-width="1.2"/>
<line x1="422.7" y1="180.7" x2="427.3" y2="180.7" stroke="#3a3a3a" stroke-width="1.2"/>
<line x1="440.7" y1="171.5" x2="440.7" y2="179.5" stroke="#3a3a3a" stroke-width="0.9"/>
<line x1="438.4" y1="171.5" x2="443" y2="171.5" stroke="#3a3a3a" stroke-width="1.2"/>
<line x1="438.4" y1="179.5" x2="443" y2="179.5" stroke="#3a3a3a" stroke-width="1.2"/>
<line x1="456" y1="169.8" x2="456" y2="177.8" stroke="#3a3a3a" stroke-width="0.9"/>
<line x1="453.7" y1="169.8" x2="458.3" y2="169.8" stroke="#3a3a3a" stroke-width="1.2"/>
<line x1="453.7" y1="177.8" x2="458.3" y2="177.8" stroke="#3a3a3a" stroke-width="1.2"/>
<line x1="471.2" y1="172.3" x2="471.2" y2="175.3" stroke="#3a3a3a" stroke-width="0.9"/>
<line x1="468.9" y1="172.3" x2="473.5" y2="172.3" stroke="#3a3a3a" stroke-width="1.2"/>
<line x1="468.9" y1="175.3" x2="473.5" y2="175.3" stroke="#3a3a3a" stroke-width="1.2"/>
<line x1="486.2" y1="170.8" x2="486.2" y2="176.8" stroke="#3a3a3a" stroke-width="0.9"/>
<line x1="483.9" y1="170.8" x2="488.5" y2="170.8" stroke="#3a3a3a" stroke-width="1.2"/>
<line x1="483.9" y1="176.8" x2="488.5" y2="176.8" stroke="#3a3a3a" stroke-width="1.2"/>
<line x1="501.8" y1="164.8" x2="501.8" y2="170.8" stroke="#3a3a3a" stroke-width="0.9"/>
<line x1="499.5" y1="164.8" x2="504.1" y2="164.8" stroke="#3a3a3a" stroke-width="1.2"/>
<line x1="499.5" y1="170.8" x2="504.1" y2="170.8" stroke="#3a3a3a" stroke-width="1.2"/>
<line x1="394.8" y1="167.7" x2="394.8" y2="179.1" stroke="#3a3a3a" stroke-width="0.9"/>
<line x1="392.5" y1="167.7" x2="397.1" y2="167.7" stroke="#3a3a3a" stroke-width="1.2"/>
<line x1="392.5" y1="179.1" x2="397.1" y2="179.1" stroke="#3a3a3a" stroke-width="1.2"/>
<line x1="409.9" y1="167.7" x2="409.9" y2="179.1" stroke="#3a3a3a" stroke-width="0.9"/>
<line x1="407.6" y1="167.7" x2="412.2" y2="167.7" stroke="#3a3a3a" stroke-width="1.2"/>
<line x1="407.6" y1="179.1" x2="412.2" y2="179.1" stroke="#3a3a3a" stroke-width="1.2"/>
<line x1="425" y1="166.8" x2="425" y2="178" stroke="#3a3a3a" stroke-width="0.9"/>
<line x1="422.7" y1="166.8" x2="427.3" y2="166.8" stroke="#3a3a3a" stroke-width="1.2"/>
<line x1="422.7" y1="178" x2="427.3" y2="178" stroke="#3a3a3a" stroke-width="1.2"/>
<line x1="440.7" y1="168.3" x2="440.7" y2="182.1" stroke="#3a3a3a" stroke-width="0.9"/>
<line x1="438.4" y1="168.3" x2="443" y2="168.3" stroke="#3a3a3a" stroke-width="1.2"/>
<line x1="438.4" y1="182.1" x2="443" y2="182.1" stroke="#3a3a3a" stroke-width="1.2"/>
<line x1="456" y1="166.4" x2="456" y2="179.4" stroke="#3a3a3a" stroke-width="0.9"/>
<line x1="453.7" y1="166.4" x2="458.3" y2="166.4" stroke="#3a3a3a" stroke-width="1.2"/>
<line x1="453.7" y1="179.4" x2="458.3" y2="179.4" stroke="#3a3a3a" stroke-width="1.2"/>
<line x1="471.2" y1="164.2" x2="471.2" y2="175.4" stroke="#3a3a3a" stroke-width="0.9"/>
<line x1="468.9" y1="164.2" x2="473.5" y2="164.2" stroke="#3a3a3a" stroke-width="1.2"/>
<line x1="468.9" y1="175.4" x2="473.5" y2="175.4" stroke="#3a3a3a" stroke-width="1.2"/>
<line x1="486.2" y1="164.2" x2="486.2" y2="175.4" stroke="#3a3a3a" stroke-width="0.9"/>
<line x1="483.9" y1="164.2" x2="488.5" y2="164.2" stroke="#3a3a3a" stroke-width="1.2"/>
<line x1="483.9" y1="175.4" x2="488.5" y2="175.4" stroke="#3a3a3a" stroke-width="1.2"/>
<line x1="501.8" y1="161.2" x2="501.8" y2="172.4" stroke="#3a3a3a" stroke-width="0.9"/>
<line x1="499.5" y1="161.2" x2="504.1" y2="161.2" stroke="#3a3a3a" stroke-width="1.2"/>
<line x1="499.5" y1="172.4" x2="504.1" y2="172.4" stroke="#3a3a3a" stroke-width="1.2"/>
<line x1="394.8" y1="197.9" x2="394.8" y2="208.3" stroke="#3a3a3a" stroke-width="0.9"/>
<line x1="392.5" y1="197.9" x2="397.1" y2="197.9" stroke="#3a3a3a" stroke-width="1.2"/>
<line x1="392.5" y1="208.3" x2="397.1" y2="208.3" stroke="#3a3a3a" stroke-width="1.2"/>
<line x1="409.9" y1="195.3" x2="409.9" y2="208.3" stroke="#3a3a3a" stroke-width="0.9"/>
<line x1="407.6" y1="195.3" x2="412.2" y2="195.3" stroke="#3a3a3a" stroke-width="1.2"/>
<line x1="407.6" y1="208.3" x2="412.2" y2="208.3" stroke="#3a3a3a" stroke-width="1.2"/>
<line x1="425" y1="197.9" x2="425" y2="209.3" stroke="#3a3a3a" stroke-width="0.9"/>
<line x1="422.7" y1="197.9" x2="427.3" y2="197.9" stroke="#3a3a3a" stroke-width="1.2"/>
<line x1="422.7" y1="209.3" x2="427.3" y2="209.3" stroke="#3a3a3a" stroke-width="1.2"/>
<line x1="440.7" y1="193.7" x2="440.7" y2="208.1" stroke="#3a3a3a" stroke-width="0.9"/>
<line x1="438.4" y1="193.7" x2="443" y2="193.7" stroke="#3a3a3a" stroke-width="1.2"/>
<line x1="438.4" y1="208.1" x2="443" y2="208.1" stroke="#3a3a3a" stroke-width="1.2"/>
<line x1="456" y1="198.7" x2="456" y2="206.5" stroke="#3a3a3a" stroke-width="0.9"/>
<line x1="453.7" y1="198.7" x2="458.3" y2="198.7" stroke="#3a3a3a" stroke-width="1.2"/>
<line x1="453.7" y1="206.5" x2="458.3" y2="206.5" stroke="#3a3a3a" stroke-width="1.2"/>
<line x1="471.2" y1="198.2" x2="471.2" y2="213.2" stroke="#3a3a3a" stroke-width="0.9"/>
<line x1="468.9" y1="198.2" x2="473.5" y2="198.2" stroke="#3a3a3a" stroke-width="1.2"/>
<line x1="468.9" y1="213.2" x2="473.5" y2="213.2" stroke="#3a3a3a" stroke-width="1.2"/>
<line x1="486.2" y1="202.5" x2="486.2" y2="213.5" stroke="#3a3a3a" stroke-width="0.9"/>
<line x1="483.9" y1="202.5" x2="488.5" y2="202.5" stroke="#3a3a3a" stroke-width="1.2"/>
<line x1="483.9" y1="213.5" x2="488.5" y2="213.5" stroke="#3a3a3a" stroke-width="1.2"/>
<line x1="501.8" y1="197.1" x2="501.8" y2="208.1" stroke="#3a3a3a" stroke-width="0.9"/>
<line x1="499.5" y1="197.1" x2="504.1" y2="197.1" stroke="#3a3a3a" stroke-width="1.2"/>
<line x1="499.5" y1="208.1" x2="504.1" y2="208.1" stroke="#3a3a3a" stroke-width="1.2"/>
<line x1="394.8" y1="195.7" x2="394.8" y2="206.7" stroke="#3a3a3a" stroke-width="0.9"/>
<line x1="392.5" y1="195.7" x2="397.1" y2="195.7" stroke="#3a3a3a" stroke-width="1.2"/>
<line x1="392.5" y1="206.7" x2="397.1" y2="206.7" stroke="#3a3a3a" stroke-width="1.2"/>
<line x1="409.9" y1="194.8" x2="409.9" y2="208.4" stroke="#3a3a3a" stroke-width="0.9"/>
<line x1="407.6" y1="194.8" x2="412.2" y2="194.8" stroke="#3a3a3a" stroke-width="1.2"/>
<line x1="407.6" y1="208.4" x2="412.2" y2="208.4" stroke="#3a3a3a" stroke-width="1.2"/>
<line x1="425" y1="188.3" x2="425" y2="210.3" stroke="#3a3a3a" stroke-width="0.9"/>
<line x1="422.7" y1="188.3" x2="427.3" y2="188.3" stroke="#3a3a3a" stroke-width="1.2"/>
<line x1="422.7" y1="210.3" x2="427.3" y2="210.3" stroke="#3a3a3a" stroke-width="1.2"/>
<line x1="440.7" y1="187" x2="440.7" y2="205.4" stroke="#3a3a3a" stroke-width="0.9"/>
<line x1="438.4" y1="187" x2="443" y2="187" stroke="#3a3a3a" stroke-width="1.2"/>
<line x1="438.4" y1="205.4" x2="443" y2="205.4" stroke="#3a3a3a" stroke-width="1.2"/>
<line x1="456" y1="191.6" x2="456" y2="203.2" stroke="#3a3a3a" stroke-width="0.9"/>
<line x1="453.7" y1="191.6" x2="458.3" y2="191.6" stroke="#3a3a3a" stroke-width="1.2"/>
<line x1="453.7" y1="203.2" x2="458.3" y2="203.2" stroke="#3a3a3a" stroke-width="1.2"/>
<line x1="471.2" y1="189.6" x2="471.2" y2="204.6" stroke="#3a3a3a" stroke-width="0.9"/>
<line x1="468.9" y1="189.6" x2="473.5" y2="189.6" stroke="#3a3a3a" stroke-width="1.2"/>
<line x1="468.9" y1="204.6" x2="473.5" y2="204.6" stroke="#3a3a3a" stroke-width="1.2"/>
<line x1="486.2" y1="191.9" x2="486.2" y2="207.5" stroke="#3a3a3a" stroke-width="0.9"/>
<line x1="483.9" y1="191.9" x2="488.5" y2="191.9" stroke="#3a3a3a" stroke-width="1.2"/>
<line x1="483.9" y1="207.5" x2="488.5" y2="207.5" stroke="#3a3a3a" stroke-width="1.2"/>
<line x1="501.8" y1="188.1" x2="501.8" y2="205.3" stroke="#3a3a3a" stroke-width="0.9"/>
<line x1="499.5" y1="188.1" x2="504.1" y2="188.1" stroke="#3a3a3a" stroke-width="1.2"/>
<line x1="499.5" y1="205.3" x2="504.1" y2="205.3" stroke="#3a3a3a" stroke-width="1.2"/>
<rect x="392.45" y="179.05" width="4.7" height="4.7" fill="#d8a64a" stroke="#3a2a0a" stroke-width="1"/>
<rect x="407.55" y="175.65" width="4.7" height="4.7" fill="#d8a64a" stroke="#3a2a0a" stroke-width="1"/>
<rect x="422.65" y="175.35" width="4.7" height="4.7" fill="#d8a64a" stroke="#3a2a0a" stroke-width="1"/>
<rect x="438.35" y="173.15" width="4.7" height="4.7" fill="#d8a64a" stroke="#3a2a0a" stroke-width="1"/>
<rect x="453.65" y="171.45" width="4.7" height="4.7" fill="#d8a64a" stroke="#3a2a0a" stroke-width="1"/>
<rect x="468.85" y="171.45" width="4.7" height="4.7" fill="#d8a64a" stroke="#3a2a0a" stroke-width="1"/>
<rect x="483.85" y="171.45" width="4.7" height="4.7" fill="#d8a64a" stroke="#3a2a0a" stroke-width="1"/>
<rect x="499.45" y="165.45" width="4.7" height="4.7" fill="#d8a64a" stroke="#3a2a0a" stroke-width="1"/>
<circle cx="394.8" cy="173.4" r="2.35" fill="#9a1d40" stroke="#2e0610" stroke-width="1"/>
<circle cx="409.9" cy="173.4" r="2.35" fill="#9a1d40" stroke="#2e0610" stroke-width="1"/>
<circle cx="425" cy="172.4" r="2.35" fill="#9a1d40" stroke="#2e0610" stroke-width="1"/>
<circle cx="440.7" cy="175.2" r="2.35" fill="#9a1d40" stroke="#2e0610" stroke-width="1"/>
<circle cx="456" cy="172.9" r="2.35" fill="#9a1d40" stroke="#2e0610" stroke-width="1"/>
<circle cx="471.2" cy="169.8" r="2.35" fill="#9a1d40" stroke="#2e0610" stroke-width="1"/>
<circle cx="486.2" cy="169.8" r="2.35" fill="#9a1d40" stroke="#2e0610" stroke-width="1"/>
<circle cx="501.8" cy="166.8" r="2.35" fill="#9a1d40" stroke="#2e0610" stroke-width="1"/>
<circle cx="394.8" cy="203.1" r="2.35" fill="#9a1d40" stroke="#2e0610" stroke-width="1"/>
<circle cx="409.9" cy="201.8" r="2.35" fill="#9a1d40" stroke="#2e0610" stroke-width="1"/>
<circle cx="425" cy="203.6" r="2.35" fill="#9a1d40" stroke="#2e0610" stroke-width="1"/>
<circle cx="440.7" cy="200.9" r="2.35" fill="#9a1d40" stroke="#2e0610" stroke-width="1"/>
<circle cx="456" cy="202.6" r="2.35" fill="#9a1d40" stroke="#2e0610" stroke-width="1"/>
<circle cx="471.2" cy="205.7" r="2.35" fill="#9a1d40" stroke="#2e0610" stroke-width="1"/>
<circle cx="486.2" cy="208" r="2.35" fill="#9a1d40" stroke="#2e0610" stroke-width="1"/>
<circle cx="501.8" cy="202.6" r="2.35" fill="#9a1d40" stroke="#2e0610" stroke-width="1"/>
<rect x="392.45" y="198.85" width="4.7" height="4.7" fill="#3d9c4e" stroke="#0b3314" stroke-width="1"/>
<rect x="407.55" y="199.25" width="4.7" height="4.7" fill="#3d9c4e" stroke="#0b3314" stroke-width="1"/>
<rect x="422.65" y="196.95" width="4.7" height="4.7" fill="#3d9c4e" stroke="#0b3314" stroke-width="1"/>
<rect x="438.35" y="193.85" width="4.7" height="4.7" fill="#3d9c4e" stroke="#0b3314" stroke-width="1"/>
<rect x="453.65" y="195.05" width="4.7" height="4.7" fill="#3d9c4e" stroke="#0b3314" stroke-width="1"/>
<rect x="468.85" y="194.75" width="4.7" height="4.7" fill="#3d9c4e" stroke="#0b3314" stroke-width="1"/>
<rect x="483.85" y="197.35" width="4.7" height="4.7" fill="#3d9c4e" stroke="#0b3314" stroke-width="1"/>
<rect x="499.45" y="194.35" width="4.7" height="4.7" fill="#3d9c4e" stroke="#0b3314" stroke-width="1"/>
<text x="7.2" y="311.9" font-size="12.6" text-anchor="start" fill="#111" color="#111" font-weight="bold" stroke="#111" stroke-width="0.35">E</text>
<text x="205.8" y="327.1" font-size="9.8" text-anchor="start" fill="#111111" color="#111111">PEA/Vehicle Treatment (IP Single Dose)</text>
<line x1="113" y1="364.3" x2="474.8" y2="364.3" stroke="#2a2a2a" stroke-width="1.2"/>
<line x1="113" y1="359" x2="113" y2="369.7" stroke="#2a2a2a" stroke-width="1.1"/>
<line x1="210.6" y1="359" x2="210.6" y2="369.7" stroke="#2a2a2a" stroke-width="1.1"/>
<line x1="262.3" y1="359" x2="262.3" y2="369.7" stroke="#2a2a2a" stroke-width="1.1"/>
<line x1="330" y1="359" x2="330" y2="369.7" stroke="#2a2a2a" stroke-width="1.1"/>
<line x1="382.1" y1="359" x2="382.1" y2="369.7" stroke="#2a2a2a" stroke-width="1.1"/>
<line x1="474.8" y1="359" x2="474.8" y2="369.7" stroke="#2a2a2a" stroke-width="1.1"/>
<text x="112.8" y="380.6" font-size="8.2" text-anchor="middle" fill="#111111" color="#111111">BL</text>
<text x="211.2" y="380.6" font-size="8.2" text-anchor="middle" fill="#111111" color="#111111">1H</text>
<text x="262.4" y="380.6" font-size="8.2" text-anchor="middle" fill="#111111" color="#111111">24H</text>
<text x="330.2" y="380.6" font-size="8.2" text-anchor="middle" fill="#111111" color="#111111">1H</text>
<text x="382" y="380.6" font-size="8.2" text-anchor="middle" fill="#111111" color="#111111">24H</text>
<text x="474.8" y="380.6" font-size="8.2" text-anchor="middle" fill="#111111" color="#111111">9D</text>
<text x="81.9" y="369.8" font-size="8.1" text-anchor="middle" fill="#111111" color="#111111">Pain Testing</text>
<text x="81.9" y="380" font-size="8.1" text-anchor="middle" fill="#111111" color="#111111">Timepoints</text>
<line x1="213.1" y1="385.9" x2="265.4" y2="385.9" stroke="#2a2a2a" stroke-width="1.1"/>
<line x1="332.3" y1="385.9" x2="384.6" y2="385.9" stroke="#2a2a2a" stroke-width="1.1"/>
<text x="239.6" y="396.8" font-size="8.2" text-anchor="middle" fill="#111111" color="#111111">0D</text>
<text x="358.5" y="396.8" font-size="8.2" text-anchor="middle" fill="#111111" color="#111111">2D</text>
<polygon points="165,363.4 169.75,353.9 171.7,354.2 173.6,347.2 177.5,342 184.9,346 179.5,350.4 181.3,352 175.9,357.4 165,363.4" fill="#d0183e" stroke="#2a0810" stroke-width="1.0" stroke-linejoin="miter"/>
<polygon points="311.6,362.2 316.35,352.7 318.3,353 320.2,346 324.1,340.8 331.5,344.8 326.1,349.2 327.9,350.8 322.5,356.2 311.6,362.2" fill="#d0183e" stroke="#2a0810" stroke-width="1.0" stroke-linejoin="miter"/>
<g transform="translate(184 363) rotate(-54.3)">
<defs><linearGradient id="bg184" x1="0" y1="0" x2="0" y2="1"><stop offset="0" stop-color="#c9daf0"/><stop offset="0.45" stop-color="#dce8f6"/><stop offset="1" stop-color="#a2bce0"/></linearGradient></defs>
<line x1="0" y1="0" x2="10.3" y2="0" stroke="#1a1a2a" stroke-width="0.95"/>
<rect x="10.3" y="-3.5" width="17.4" height="7" fill="url(#bg184)" stroke="#2b3c63" stroke-width="0.7"/>
<line x1="10.3" y1="-4.6" x2="10.3" y2="4.6" stroke="#1d2b4d" stroke-width="1.4"/>
<line x1="14.6" y1="-3.5" x2="14.6" y2="-0.4" stroke="#18264a" stroke-width="1.2"/>
<line x1="17.6" y1="-3.5" x2="17.6" y2="-0.4" stroke="#18264a" stroke-width="1.2"/>
<line x1="20.6" y1="-3.5" x2="20.6" y2="-0.4" stroke="#18264a" stroke-width="1.2"/>
<line x1="23.6" y1="-3.5" x2="23.6" y2="-0.4" stroke="#18264a" stroke-width="1.2"/>
<line x1="27.9" y1="-4.7" x2="27.9" y2="4.7" stroke="#1a2a4c" stroke-width="1.6"/>
<rect x="27.9" y="-2.2" width="5.2" height="4.4" fill="#203a60" stroke="#14223d" stroke-width="0.5"/>
<line x1="33.4" y1="-3.9" x2="33.4" y2="3.9" stroke="#14223d" stroke-width="1.7"/>
</g>
<text x="153.3" y="350.2" font-size="8.7" text-anchor="middle" fill="#bf3a5a" color="#bf3a5a">0D</text>
<text x="153.9" y="360.2" font-size="8.7" text-anchor="middle" fill="#bf3a5a" color="#bf3a5a" letter-spacing="0.6">H/R</text>
<text x="299.5" y="350.2" font-size="8.7" text-anchor="middle" fill="#bf3a5a" color="#bf3a5a">2D</text>
<text x="299.8" y="360.2" font-size="8.7" text-anchor="middle" fill="#bf3a5a" color="#bf3a5a" letter-spacing="0.6">H/R</text>
<text x="8" y="419.7" font-size="12.6" text-anchor="start" fill="#111" color="#111" font-weight="bold" stroke="#111" stroke-width="0.35">F</text>
<text x="104.6" y="434.8" font-size="9.9" text-anchor="middle" fill="#111111" color="#111111">Mechanical</text>
<line x1="38.6" y1="448.4" x2="38.6" y2="526.3" stroke="#231f20" stroke-width="1.15"/>
<line x1="38.05" y1="525.7" x2="172" y2="525.7" stroke="#231f20" stroke-width="1.25"/>
<line x1="35.3" y1="518.4" x2="38.6" y2="518.4" stroke="#231f20" stroke-width="1.1"/>
<text x="32.2" y="521.3" font-size="8.2" text-anchor="end" fill="#111111" color="#111111">0</text>
<line x1="35.3" y1="504.92" x2="38.6" y2="504.92" stroke="#231f20" stroke-width="1.1"/>
<text x="32.2" y="507.82" font-size="8.2" text-anchor="end" fill="#111111" color="#111111">2</text>
<line x1="35.3" y1="491.44" x2="38.6" y2="491.44" stroke="#231f20" stroke-width="1.1"/>
<text x="32.2" y="494.34" font-size="8.2" text-anchor="end" fill="#111111" color="#111111">4</text>
<line x1="35.3" y1="477.96" x2="38.6" y2="477.96" stroke="#231f20" stroke-width="1.1"/>
<text x="32.2" y="480.86" font-size="8.2" text-anchor="end" fill="#111111" color="#111111">6</text>
<line x1="35.3" y1="464.48" x2="38.6" y2="464.48" stroke="#231f20" stroke-width="1.1"/>
<text x="32.2" y="467.38" font-size="8.2" text-anchor="end" fill="#111111" color="#111111">8</text>
<line x1="35.3" y1="451" x2="38.6" y2="451" stroke="#231f20" stroke-width="1.1"/>
<text x="32.2" y="453.9" font-size="8.2" text-anchor="end" fill="#111111" color="#111111">10</text>
<line x1="56.4" y1="525.7" x2="56.4" y2="528.9" stroke="#231f20" stroke-width="1.1"/>
<line x1="77.2" y1="525.7" x2="77.2" y2="528.9" stroke="#231f20" stroke-width="1.1"/>
<line x1="98.3" y1="525.7" x2="98.3" y2="528.9" stroke="#231f20" stroke-width="1.1"/>
<line x1="119.3" y1="525.7" x2="119.3" y2="528.9" stroke="#231f20" stroke-width="1.1"/>
<line x1="140" y1="525.7" x2="140" y2="528.9" stroke="#231f20" stroke-width="1.1"/>
<line x1="161.3" y1="525.7" x2="161.3" y2="528.9" stroke="#231f20" stroke-width="1.1"/>
<text x="56.4" y="540.2" font-size="8.2" text-anchor="middle" fill="#111111" color="#111111">BL</text>
<text x="77.2" y="540.2" font-size="8.2" text-anchor="middle" fill="#111111" color="#111111">1H</text>
<text x="98.3" y="540.2" font-size="8.2" text-anchor="middle" fill="#111111" color="#111111">24H</text>
<text x="119.3" y="540.2" font-size="8.2" text-anchor="middle" fill="#111111" color="#111111">1H</text>
<text x="140" y="540.2" font-size="8.2" text-anchor="middle" fill="#111111" color="#111111">24H</text>
<text x="161.3" y="540.2" font-size="8.2" text-anchor="middle" fill="#111111" color="#111111">9D</text>
<line x1="150.5" y1="529.4" x2="155.9" y2="522.7" stroke="#231f20" stroke-width="1.2"/>
<line x1="153.3" y1="529.4" x2="158.8" y2="522.7" stroke="#231f20" stroke-width="1.2"/>
<text transform="translate(15.6 490.6) rotate(-90) scale(0.87 1)" font-size="8.3" text-anchor="middle" fill="#111111" color="#111111">PWF-VF (1.0 g fiber)</text>
<line x1="74.5" y1="544.8" x2="101.9" y2="544.8" stroke="#231f20" stroke-width="1"/>
<line x1="116.3" y1="544.8" x2="144.6" y2="544.8" stroke="#231f20" stroke-width="1"/>
<text x="88.8" y="556.4" font-size="8.2" text-anchor="middle" fill="#111111" color="#111111">0D</text>
<text x="130.9" y="556.4" font-size="8.2" text-anchor="middle" fill="#111111" color="#111111">2D</text>
<line x1="77.2" y1="453.1" x2="140" y2="453.1" stroke="#c8649c" stroke-width="1.1"/>
<text x="84.6" y="451.2" font-size="7.2" text-anchor="middle" fill="#111111" color="#111111">‡‡</text>
<line x1="116.4" y1="449.8" x2="140" y2="449.8" stroke="#7890a8" stroke-width="1.4"/>
<text x="128" y="447.1" font-size="7.2" text-anchor="middle" fill="#111111" color="#111111">††</text>
<text x="77.6" y="497.6" font-size="7.2" text-anchor="middle" fill="#111111" color="#111111">***</text>
<text x="77.4" y="503" font-size="7.2" text-anchor="middle" fill="#111111" color="#111111">†</text>
<text x="98.6" y="503.3" font-size="7.2" text-anchor="middle" fill="#111111" color="#111111">***</text>
<text x="98.4" y="510.6" font-size="7.2" text-anchor="middle" fill="#111111" color="#111111">††</text>
<polyline points="56.4,473.2 77.2,482.7 98.3,485.9 119.3,462.2 140,461.6 161.3,474.4" fill="none" stroke="#2b2b2b" stroke-width="1" stroke-linejoin="round"/>
<polyline points="56.4,476.4 77.2,462.7 98.3,462.2 119.3,462 140,461.5 161.3,472.2" fill="none" stroke="#2b2b2b" stroke-width="1" stroke-linejoin="round"/>
<line x1="56.4" y1="470" x2="56.4" y2="476.4" stroke="#3a3a3a" stroke-width="0.9"/>
<line x1="54.1" y1="470" x2="58.7" y2="470" stroke="#3a3a3a" stroke-width="1.2"/>
<line x1="54.1" y1="476.4" x2="58.7" y2="476.4" stroke="#3a3a3a" stroke-width="1.2"/>
<line x1="77.2" y1="479.7" x2="77.2" y2="485.7" stroke="#3a3a3a" stroke-width="0.9"/>
<line x1="74.9" y1="479.7" x2="79.5" y2="479.7" stroke="#3a3a3a" stroke-width="1.2"/>
<line x1="74.9" y1="485.7" x2="79.5" y2="485.7" stroke="#3a3a3a" stroke-width="1.2"/>
<line x1="98.3" y1="477.1" x2="98.3" y2="494.7" stroke="#3a3a3a" stroke-width="0.9"/>
<line x1="96" y1="477.1" x2="100.6" y2="477.1" stroke="#3a3a3a" stroke-width="1.2"/>
<line x1="96" y1="494.7" x2="100.6" y2="494.7" stroke="#3a3a3a" stroke-width="1.2"/>
<line x1="119.3" y1="458.2" x2="119.3" y2="466.2" stroke="#3a3a3a" stroke-width="0.9"/>
<line x1="117" y1="458.2" x2="121.6" y2="458.2" stroke="#3a3a3a" stroke-width="1.2"/>
<line x1="117" y1="466.2" x2="121.6" y2="466.2" stroke="#3a3a3a" stroke-width="1.2"/>
<line x1="140" y1="458.6" x2="140" y2="464.6" stroke="#3a3a3a" stroke-width="0.9"/>
<line x1="137.7" y1="458.6" x2="142.3" y2="458.6" stroke="#3a3a3a" stroke-width="1.2"/>
<line x1="137.7" y1="464.6" x2="142.3" y2="464.6" stroke="#3a3a3a" stroke-width="1.2"/>
<line x1="161.3" y1="469.4" x2="161.3" y2="479.4" stroke="#3a3a3a" stroke-width="0.9"/>
<line x1="159" y1="469.4" x2="163.6" y2="469.4" stroke="#3a3a3a" stroke-width="1.2"/>
<line x1="159" y1="479.4" x2="163.6" y2="479.4" stroke="#3a3a3a" stroke-width="1.2"/>
<line x1="56.4" y1="472.4" x2="56.4" y2="480.4" stroke="#3a3a3a" stroke-width="0.9"/>
<line x1="54.1" y1="472.4" x2="58.7" y2="472.4" stroke="#3a3a3a" stroke-width="1.2"/>
<line x1="54.1" y1="480.4" x2="58.7" y2="480.4" stroke="#3a3a3a" stroke-width="1.2"/>
<line x1="77.2" y1="455.1" x2="77.2" y2="470.3" stroke="#3a3a3a" stroke-width="0.9"/>
<line x1="74.9" y1="455.1" x2="79.5" y2="455.1" stroke="#3a3a3a" stroke-width="1.2"/>
<line x1="74.9" y1="470.3" x2="79.5" y2="470.3" stroke="#3a3a3a" stroke-width="1.2"/>
<line x1="98.3" y1="460.2" x2="98.3" y2="464.2" stroke="#3a3a3a" stroke-width="0.9"/>
<line x1="96" y1="460.2" x2="100.6" y2="460.2" stroke="#3a3a3a" stroke-width="1.2"/>
<line x1="96" y1="464.2" x2="100.6" y2="464.2" stroke="#3a3a3a" stroke-width="1.2"/>
<line x1="119.3" y1="458" x2="119.3" y2="466" stroke="#3a3a3a" stroke-width="0.9"/>
<line x1="117" y1="458" x2="121.6" y2="458" stroke="#3a3a3a" stroke-width="1.2"/>
<line x1="117" y1="466" x2="121.6" y2="466" stroke="#3a3a3a" stroke-width="1.2"/>
<line x1="140" y1="458.5" x2="140" y2="464.5" stroke="#3a3a3a" stroke-width="0.9"/>
<line x1="137.7" y1="458.5" x2="142.3" y2="458.5" stroke="#3a3a3a" stroke-width="1.2"/>
<line x1="137.7" y1="464.5" x2="142.3" y2="464.5" stroke="#3a3a3a" stroke-width="1.2"/>
<line x1="161.3" y1="466" x2="161.3" y2="478.4" stroke="#3a3a3a" stroke-width="0.9"/>
<line x1="159" y1="466" x2="163.6" y2="466" stroke="#3a3a3a" stroke-width="1.2"/>
<line x1="159" y1="478.4" x2="163.6" y2="478.4" stroke="#3a3a3a" stroke-width="1.2"/>
<rect x="54.05" y="470.85" width="4.7" height="4.7" fill="#3d9c4e" stroke="#0b3314" stroke-width="1"/>
<rect x="74.85" y="480.35" width="4.7" height="4.7" fill="#3d9c4e" stroke="#0b3314" stroke-width="1"/>
<rect x="95.95" y="483.55" width="4.7" height="4.7" fill="#3d9c4e" stroke="#0b3314" stroke-width="1"/>
<rect x="116.95" y="459.85" width="4.7" height="4.7" fill="#3d9c4e" stroke="#0b3314" stroke-width="1"/>
<rect x="137.65" y="459.25" width="4.7" height="4.7" fill="#3d9c4e" stroke="#0b3314" stroke-width="1"/>
<rect x="158.95" y="472.05" width="4.7" height="4.7" fill="#3d9c4e" stroke="#0b3314" stroke-width="1"/>
<circle cx="56.4" cy="476.4" r="2.35" fill="#9a1d40" stroke="#2e0610" stroke-width="1"/>
<circle cx="77.2" cy="462.7" r="2.35" fill="#9a1d40" stroke="#2e0610" stroke-width="1"/>
<circle cx="98.3" cy="462.2" r="2.35" fill="#9a1d40" stroke="#2e0610" stroke-width="1"/>
<circle cx="119.3" cy="462" r="2.35" fill="#9a1d40" stroke="#2e0610" stroke-width="1"/>
<circle cx="140" cy="461.5" r="2.35" fill="#9a1d40" stroke="#2e0610" stroke-width="1"/>
<circle cx="161.3" cy="472.2" r="2.35" fill="#9a1d40" stroke="#2e0610" stroke-width="1"/>
<text x="180.2" y="419.7" font-size="12.6" text-anchor="start" fill="#111" color="#111" font-weight="bold" stroke="#111" stroke-width="0.35">G</text>
<text x="277.6" y="434.8" font-size="9.9" text-anchor="middle" fill="#111111" color="#111111">Cold</text>
<line x1="212" y1="449.4" x2="212" y2="526.5" stroke="#231f20" stroke-width="1.15"/>
<line x1="211.45" y1="525.9" x2="344.2" y2="525.9" stroke="#231f20" stroke-width="1.25"/>
<line x1="208.7" y1="518.4" x2="212" y2="518.4" stroke="#231f20" stroke-width="1.1"/>
<text x="205.6" y="521.3" font-size="8.2" text-anchor="end" fill="#111111" color="#111111">0</text>
<line x1="208.7" y1="496.53" x2="212" y2="496.53" stroke="#231f20" stroke-width="1.1"/>
<text x="205.6" y="499.43" font-size="8.2" text-anchor="end" fill="#111111" color="#111111">30</text>
<line x1="208.7" y1="474.66" x2="212" y2="474.66" stroke="#231f20" stroke-width="1.1"/>
<text x="205.6" y="477.56" font-size="8.2" text-anchor="end" fill="#111111" color="#111111">60</text>
<line x1="208.7" y1="452.79" x2="212" y2="452.79" stroke="#231f20" stroke-width="1.1"/>
<text x="205.6" y="455.69" font-size="8.2" text-anchor="end" fill="#111111" color="#111111">90</text>
<line x1="229.3" y1="525.9" x2="229.3" y2="529.1" stroke="#231f20" stroke-width="1.1"/>
<line x1="249.8" y1="525.9" x2="249.8" y2="529.1" stroke="#231f20" stroke-width="1.1"/>
<line x1="270.3" y1="525.9" x2="270.3" y2="529.1" stroke="#231f20" stroke-width="1.1"/>
<line x1="290.4" y1="525.9" x2="290.4" y2="529.1" stroke="#231f20" stroke-width="1.1"/>
<line x1="310.5" y1="525.9" x2="310.5" y2="529.1" stroke="#231f20" stroke-width="1.1"/>
<line x1="330.6" y1="525.9" x2="330.6" y2="529.1" stroke="#231f20" stroke-width="1.1"/>
<text x="229.3" y="540.4" font-size="8.2" text-anchor="middle" fill="#111111" color="#111111">BL</text>
<text x="249.8" y="540.4" font-size="8.2" text-anchor="middle" fill="#111111" color="#111111">1H</text>
<text x="270.3" y="540.4" font-size="8.2" text-anchor="middle" fill="#111111" color="#111111">24H</text>
<text x="290.4" y="540.4" font-size="8.2" text-anchor="middle" fill="#111111" color="#111111">1H</text>
<text x="310.5" y="540.4" font-size="8.2" text-anchor="middle" fill="#111111" color="#111111">24H</text>
<text x="330.6" y="540.4" font-size="8.2" text-anchor="middle" fill="#111111" color="#111111">9D</text>
<line x1="320.2" y1="529.6" x2="325.6" y2="522.9" stroke="#231f20" stroke-width="1.2"/>
<line x1="323" y1="529.6" x2="328.5" y2="522.9" stroke="#231f20" stroke-width="1.2"/>
<text transform="translate(188.6 487.8) rotate(-90) scale(0.87 1)" font-size="8.3" text-anchor="middle" fill="#111111" color="#111111">PWF - cold (per 2 min)</text>
<line x1="247.9" y1="545" x2="275.3" y2="545" stroke="#231f20" stroke-width="1"/>
<line x1="289.7" y1="545" x2="318" y2="545" stroke="#231f20" stroke-width="1"/>
<text x="262.2" y="556.6" font-size="8.2" text-anchor="middle" fill="#111111" color="#111111">0D</text>
<text x="304.3" y="556.6" font-size="8.2" text-anchor="middle" fill="#111111" color="#111111">2D</text>
<text x="249.8" y="452.6" font-size="7.2" text-anchor="middle" fill="#111111" color="#111111">‡</text>
<text x="290.4" y="452.6" font-size="7.2" text-anchor="middle" fill="#111111" color="#111111">‡</text>
<text x="310.5" y="452.6" font-size="7.2" text-anchor="middle" fill="#111111" color="#111111">‡</text>
<line x1="248.8" y1="475.6" x2="272" y2="475.6" stroke="#7890a8" stroke-width="1.4"/>
<text x="259.8" y="469.6" font-size="7.2" text-anchor="middle" fill="#111111" color="#111111">***</text>
<text x="259.6" y="474.6" font-size="7.2" text-anchor="middle" fill="#111111" color="#111111">†††</text>
<polyline points="229.3,467.8 249.8,487 270.3,483.7 290.4,460.2 310.5,465.7 330.6,471.4" fill="none" stroke="#2b2b2b" stroke-width="1" stroke-linejoin="round"/>
<polyline points="229.3,471 249.8,459.5 270.3,462.1 290.4,460 310.5,460 330.6,471.4" fill="none" stroke="#2b2b2b" stroke-width="1" stroke-linejoin="round"/>
<line x1="229.3" y1="465.8" x2="229.3" y2="469.8" stroke="#3a3a3a" stroke-width="0.9"/>
<line x1="227" y1="465.8" x2="231.6" y2="465.8" stroke="#3a3a3a" stroke-width="1.2"/>
<line x1="227" y1="469.8" x2="231.6" y2="469.8" stroke="#3a3a3a" stroke-width="1.2"/>
<line x1="249.8" y1="481.4" x2="249.8" y2="492.6" stroke="#3a3a3a" stroke-width="0.9"/>
<line x1="247.5" y1="481.4" x2="252.1" y2="481.4" stroke="#3a3a3a" stroke-width="1.2"/>
<line x1="247.5" y1="492.6" x2="252.1" y2="492.6" stroke="#3a3a3a" stroke-width="1.2"/>
<line x1="270.3" y1="479.2" x2="270.3" y2="488.2" stroke="#3a3a3a" stroke-width="0.9"/>
<line x1="268" y1="479.2" x2="272.6" y2="479.2" stroke="#3a3a3a" stroke-width="1.2"/>
<line x1="268" y1="488.2" x2="272.6" y2="488.2" stroke="#3a3a3a" stroke-width="1.2"/>
<line x1="290.4" y1="453.2" x2="290.4" y2="467.2" stroke="#3a3a3a" stroke-width="0.9"/>
<line x1="288.1" y1="453.2" x2="292.7" y2="453.2" stroke="#3a3a3a" stroke-width="1.2"/>
<line x1="288.1" y1="467.2" x2="292.7" y2="467.2" stroke="#3a3a3a" stroke-width="1.2"/>
<line x1="310.5" y1="462.7" x2="310.5" y2="468.7" stroke="#3a3a3a" stroke-width="0.9"/>
<line x1="308.2" y1="462.7" x2="312.8" y2="462.7" stroke="#3a3a3a" stroke-width="1.2"/>
<line x1="308.2" y1="468.7" x2="312.8" y2="468.7" stroke="#3a3a3a" stroke-width="1.2"/>
<line x1="330.6" y1="467.4" x2="330.6" y2="475.4" stroke="#3a3a3a" stroke-width="0.9"/>
<line x1="328.3" y1="467.4" x2="332.9" y2="467.4" stroke="#3a3a3a" stroke-width="1.2"/>
<line x1="328.3" y1="475.4" x2="332.9" y2="475.4" stroke="#3a3a3a" stroke-width="1.2"/>
<line x1="229.3" y1="469" x2="229.3" y2="473" stroke="#3a3a3a" stroke-width="0.9"/>
<line x1="227" y1="469" x2="231.6" y2="469" stroke="#3a3a3a" stroke-width="1.2"/>
<line x1="227" y1="473" x2="231.6" y2="473" stroke="#3a3a3a" stroke-width="1.2"/>
<line x1="249.8" y1="455.9" x2="249.8" y2="463.1" stroke="#3a3a3a" stroke-width="0.9"/>
<line x1="247.5" y1="455.9" x2="252.1" y2="455.9" stroke="#3a3a3a" stroke-width="1.2"/>
<line x1="247.5" y1="463.1" x2="252.1" y2="463.1" stroke="#3a3a3a" stroke-width="1.2"/>
<line x1="270.3" y1="460.1" x2="270.3" y2="464.1" stroke="#3a3a3a" stroke-width="0.9"/>
<line x1="268" y1="460.1" x2="272.6" y2="460.1" stroke="#3a3a3a" stroke-width="1.2"/>
<line x1="268" y1="464.1" x2="272.6" y2="464.1" stroke="#3a3a3a" stroke-width="1.2"/>
<line x1="290.4" y1="456" x2="290.4" y2="464" stroke="#3a3a3a" stroke-width="0.9"/>
<line x1="288.1" y1="456" x2="292.7" y2="456" stroke="#3a3a3a" stroke-width="1.2"/>
<line x1="288.1" y1="464" x2="292.7" y2="464" stroke="#3a3a3a" stroke-width="1.2"/>
<line x1="310.5" y1="457" x2="310.5" y2="463" stroke="#3a3a3a" stroke-width="0.9"/>
<line x1="308.2" y1="457" x2="312.8" y2="457" stroke="#3a3a3a" stroke-width="1.2"/>
<line x1="308.2" y1="463" x2="312.8" y2="463" stroke="#3a3a3a" stroke-width="1.2"/>
<line x1="330.6" y1="466.4" x2="330.6" y2="476.4" stroke="#3a3a3a" stroke-width="0.9"/>
<line x1="328.3" y1="466.4" x2="332.9" y2="466.4" stroke="#3a3a3a" stroke-width="1.2"/>
<line x1="328.3" y1="476.4" x2="332.9" y2="476.4" stroke="#3a3a3a" stroke-width="1.2"/>
<rect x="226.95" y="465.45" width="4.7" height="4.7" fill="#3d9c4e" stroke="#0b3314" stroke-width="1"/>
<rect x="247.45" y="484.65" width="4.7" height="4.7" fill="#3d9c4e" stroke="#0b3314" stroke-width="1"/>
<rect x="267.95" y="481.35" width="4.7" height="4.7" fill="#3d9c4e" stroke="#0b3314" stroke-width="1"/>
<rect x="288.05" y="457.85" width="4.7" height="4.7" fill="#3d9c4e" stroke="#0b3314" stroke-width="1"/>
<rect x="308.15" y="463.35" width="4.7" height="4.7" fill="#3d9c4e" stroke="#0b3314" stroke-width="1"/>
<rect x="328.25" y="469.05" width="4.7" height="4.7" fill="#3d9c4e" stroke="#0b3314" stroke-width="1"/>
<circle cx="229.3" cy="471" r="2.35" fill="#9a1d40" stroke="#2e0610" stroke-width="1"/>
<circle cx="249.8" cy="459.5" r="2.35" fill="#9a1d40" stroke="#2e0610" stroke-width="1"/>
<circle cx="270.3" cy="462.1" r="2.35" fill="#9a1d40" stroke="#2e0610" stroke-width="1"/>
<circle cx="290.4" cy="460" r="2.35" fill="#9a1d40" stroke="#2e0610" stroke-width="1"/>
<circle cx="310.5" cy="460" r="2.35" fill="#9a1d40" stroke="#2e0610" stroke-width="1"/>
<circle cx="330.6" cy="471.4" r="2.35" fill="#9a1d40" stroke="#2e0610" stroke-width="1"/>
<text x="353" y="419.7" font-size="12.6" text-anchor="start" fill="#111" color="#111" font-weight="bold" stroke="#111" stroke-width="0.35">H</text>
<text x="445.6" y="434.8" font-size="9.9" text-anchor="middle" fill="#111111" color="#111111">Musculoskeletal</text>
<line x1="379.9" y1="449.4" x2="379.9" y2="526.5" stroke="#231f20" stroke-width="1.15"/>
<line x1="379.35" y1="525.9" x2="512.8" y2="525.9" stroke="#231f20" stroke-width="1.25"/>
<line x1="376.6" y1="518.7" x2="379.9" y2="518.7" stroke="#231f20" stroke-width="1.1"/>
<text x="373.5" y="521.6" font-size="8.2" text-anchor="end" fill="#111111" color="#111111">4</text>
<line x1="376.6" y1="485.4" x2="379.9" y2="485.4" stroke="#231f20" stroke-width="1.1"/>
<text x="373.5" y="488.3" font-size="8.2" text-anchor="end" fill="#111111" color="#111111">6</text>
<line x1="376.6" y1="452.3" x2="379.9" y2="452.3" stroke="#231f20" stroke-width="1.1"/>
<text x="373.5" y="455.2" font-size="8.2" text-anchor="end" fill="#111111" color="#111111">8</text>
<line x1="396.9" y1="525.9" x2="396.9" y2="529.1" stroke="#231f20" stroke-width="1.1"/>
<line x1="417.8" y1="525.9" x2="417.8" y2="529.1" stroke="#231f20" stroke-width="1.1"/>
<line x1="437.9" y1="525.9" x2="437.9" y2="529.1" stroke="#231f20" stroke-width="1.1"/>
<line x1="458.3" y1="525.9" x2="458.3" y2="529.1" stroke="#231f20" stroke-width="1.1"/>
<line x1="479.1" y1="525.9" x2="479.1" y2="529.1" stroke="#231f20" stroke-width="1.1"/>
<line x1="499.4" y1="525.9" x2="499.4" y2="529.1" stroke="#231f20" stroke-width="1.1"/>
<text x="396.9" y="540.4" font-size="8.2" text-anchor="middle" fill="#111111" color="#111111">BL</text>
<text x="417.8" y="540.4" font-size="8.2" text-anchor="middle" fill="#111111" color="#111111">1H</text>
<text x="437.9" y="540.4" font-size="8.2" text-anchor="middle" fill="#111111" color="#111111">24H</text>
<text x="458.3" y="540.4" font-size="8.2" text-anchor="middle" fill="#111111" color="#111111">1H</text>
<text x="479.1" y="540.4" font-size="8.2" text-anchor="middle" fill="#111111" color="#111111">24H</text>
<text x="499.4" y="540.4" font-size="8.2" text-anchor="middle" fill="#111111" color="#111111">9D</text>
<line x1="489.3" y1="529.6" x2="494.7" y2="522.9" stroke="#231f20" stroke-width="1.2"/>
<line x1="492.1" y1="529.6" x2="497.6" y2="522.9" stroke="#231f20" stroke-width="1.2"/>
<text transform="translate(361.4 487.6) rotate(-90) scale(0.87 1)" font-size="8.3" text-anchor="middle" fill="#111111" color="#111111">Grip force (G force/g of BW)</text>
<line x1="415.8" y1="545" x2="443.2" y2="545" stroke="#231f20" stroke-width="1"/>
<line x1="457.6" y1="545" x2="485.9" y2="545" stroke="#231f20" stroke-width="1"/>
<text x="430.1" y="556.6" font-size="8.2" text-anchor="middle" fill="#111111" color="#111111">0D</text>
<text x="472.2" y="556.6" font-size="8.2" text-anchor="middle" fill="#111111" color="#111111">2D</text>
<line x1="456" y1="480.1" x2="479.4" y2="480.1" stroke="#7890a8" stroke-width="1.4"/>
<text x="469.2" y="478.6" font-size="7.2" text-anchor="middle" fill="#111111" color="#111111">**</text>
<polyline points="396.9,496.7 417.8,498 437.9,497 458.3,504.4 479.1,505.5 499.4,496.4" fill="none" stroke="#2b2b2b" stroke-width="1" stroke-linejoin="round"/>
<polyline points="396.9,494 417.8,494.9 437.9,487.5 458.3,486.4 479.1,489.6 499.4,489" fill="none" stroke="#2b2b2b" stroke-width="1" stroke-linejoin="round"/>
<line x1="396.9" y1="492.7" x2="396.9" y2="500.7" stroke="#3a3a3a" stroke-width="0.9"/>
<line x1="394.6" y1="492.7" x2="399.2" y2="492.7" stroke="#3a3a3a" stroke-width="1.2"/>
<line x1="394.6" y1="500.7" x2="399.2" y2="500.7" stroke="#3a3a3a" stroke-width="1.2"/>
<line x1="417.8" y1="495.4" x2="417.8" y2="500.6" stroke="#3a3a3a" stroke-width="0.9"/>
<line x1="415.5" y1="495.4" x2="420.1" y2="495.4" stroke="#3a3a3a" stroke-width="1.2"/>
<line x1="415.5" y1="500.6" x2="420.1" y2="500.6" stroke="#3a3a3a" stroke-width="1.2"/>
<line x1="437.9" y1="494" x2="437.9" y2="500" stroke="#3a3a3a" stroke-width="0.9"/>
<line x1="435.6" y1="494" x2="440.2" y2="494" stroke="#3a3a3a" stroke-width="1.2"/>
<line x1="435.6" y1="500" x2="440.2" y2="500" stroke="#3a3a3a" stroke-width="1.2"/>
<line x1="458.3" y1="494" x2="458.3" y2="514.8" stroke="#3a3a3a" stroke-width="0.9"/>
<line x1="456" y1="494" x2="460.6" y2="494" stroke="#3a3a3a" stroke-width="1.2"/>
<line x1="456" y1="514.8" x2="460.6" y2="514.8" stroke="#3a3a3a" stroke-width="1.2"/>
<line x1="479.1" y1="495.9" x2="479.1" y2="515.1" stroke="#3a3a3a" stroke-width="0.9"/>
<line x1="476.8" y1="495.9" x2="481.4" y2="495.9" stroke="#3a3a3a" stroke-width="1.2"/>
<line x1="476.8" y1="515.1" x2="481.4" y2="515.1" stroke="#3a3a3a" stroke-width="1.2"/>
<line x1="499.4" y1="485.4" x2="499.4" y2="507.4" stroke="#3a3a3a" stroke-width="0.9"/>
<line x1="497.1" y1="485.4" x2="501.7" y2="485.4" stroke="#3a3a3a" stroke-width="1.2"/>
<line x1="497.1" y1="507.4" x2="501.7" y2="507.4" stroke="#3a3a3a" stroke-width="1.2"/>
<line x1="396.9" y1="491" x2="396.9" y2="497" stroke="#3a3a3a" stroke-width="0.9"/>
<line x1="394.6" y1="491" x2="399.2" y2="491" stroke="#3a3a3a" stroke-width="1.2"/>
<line x1="394.6" y1="497" x2="399.2" y2="497" stroke="#3a3a3a" stroke-width="1.2"/>
<line x1="417.8" y1="490.9" x2="417.8" y2="498.9" stroke="#3a3a3a" stroke-width="0.9"/>
<line x1="415.5" y1="490.9" x2="420.1" y2="490.9" stroke="#3a3a3a" stroke-width="1.2"/>
<line x1="415.5" y1="498.9" x2="420.1" y2="498.9" stroke="#3a3a3a" stroke-width="1.2"/>
<line x1="437.9" y1="485.9" x2="437.9" y2="489.1" stroke="#3a3a3a" stroke-width="0.9"/>
<line x1="435.6" y1="485.9" x2="440.2" y2="485.9" stroke="#3a3a3a" stroke-width="1.2"/>
<line x1="435.6" y1="489.1" x2="440.2" y2="489.1" stroke="#3a3a3a" stroke-width="1.2"/>
<line x1="458.3" y1="483.8" x2="458.3" y2="489" stroke="#3a3a3a" stroke-width="0.9"/>
<line x1="456" y1="483.8" x2="460.6" y2="483.8" stroke="#3a3a3a" stroke-width="1.2"/>
<line x1="456" y1="489" x2="460.6" y2="489" stroke="#3a3a3a" stroke-width="1.2"/>
<line x1="479.1" y1="488" x2="479.1" y2="491.2" stroke="#3a3a3a" stroke-width="0.9"/>
<line x1="476.8" y1="488" x2="481.4" y2="488" stroke="#3a3a3a" stroke-width="1.2"/>
<line x1="476.8" y1="491.2" x2="481.4" y2="491.2" stroke="#3a3a3a" stroke-width="1.2"/>
<line x1="499.4" y1="486" x2="499.4" y2="492" stroke="#3a3a3a" stroke-width="0.9"/>
<line x1="497.1" y1="486" x2="501.7" y2="486" stroke="#3a3a3a" stroke-width="1.2"/>
<line x1="497.1" y1="492" x2="501.7" y2="492" stroke="#3a3a3a" stroke-width="1.2"/>
<circle cx="396.9" cy="496.7" r="2.35" fill="#9a1d40" stroke="#2e0610" stroke-width="1"/>
<circle cx="417.8" cy="498" r="2.35" fill="#9a1d40" stroke="#2e0610" stroke-width="1"/>
<circle cx="437.9" cy="497" r="2.35" fill="#9a1d40" stroke="#2e0610" stroke-width="1"/>
<circle cx="458.3" cy="504.4" r="2.35" fill="#9a1d40" stroke="#2e0610" stroke-width="1"/>
<circle cx="479.1" cy="505.5" r="2.35" fill="#9a1d40" stroke="#2e0610" stroke-width="1"/>
<circle cx="499.4" cy="496.4" r="2.35" fill="#9a1d40" stroke="#2e0610" stroke-width="1"/>
<rect x="394.55" y="491.65" width="4.7" height="4.7" fill="#3d9c4e" stroke="#0b3314" stroke-width="1"/>
<rect x="415.45" y="492.55" width="4.7" height="4.7" fill="#3d9c4e" stroke="#0b3314" stroke-width="1"/>
<rect x="435.55" y="485.15" width="4.7" height="4.7" fill="#3d9c4e" stroke="#0b3314" stroke-width="1"/>
<rect x="455.95" y="484.05" width="4.7" height="4.7" fill="#3d9c4e" stroke="#0b3314" stroke-width="1"/>
<rect x="476.75" y="487.25" width="4.7" height="4.7" fill="#3d9c4e" stroke="#0b3314" stroke-width="1"/>
<rect x="497.05" y="486.65" width="4.7" height="4.7" fill="#3d9c4e" stroke="#0b3314" stroke-width="1"/>
<line x1="91" y1="568.8" x2="104" y2="568.8" stroke="#333" stroke-width="1.1"/>
<circle cx="97.6" cy="568.8" r="3.6" fill="#9a1d40" stroke="#2e0610" stroke-width="1"/>
<text x="107.6" y="572.1" font-size="8.4" text-anchor="start" fill="#111111" color="#111111">HbSS-Vehicle</text>
<line x1="165.8" y1="568.8" x2="179" y2="568.8" stroke="#333" stroke-width="1.1"/>
<rect x="168.8" y="565.2" width="7.2" height="7.2" fill="#3d9c4e" stroke="#0b3314" stroke-width="1"/>
<text x="182" y="572.1" font-size="8.4" text-anchor="start" fill="#111111" color="#111111">HbSS-20 mg/kg</text>
<line x1="250" y1="568.8" x2="263" y2="568.8" stroke="#333" stroke-width="1.1"/>
<circle cx="256.6" cy="568.8" r="3.6" fill="#9e9ebd" stroke="#1e1e30" stroke-width="1"/>
<text x="266" y="572.1" font-size="8.4" text-anchor="start" fill="#111111" color="#111111">HbAA-Vehicle</text>
<line x1="324" y1="568.8" x2="337" y2="568.8" stroke="#333" stroke-width="1.1"/>
<rect x="327" y="565.2" width="7.2" height="7.2" fill="#eea23a" stroke="#3a230a" stroke-width="1"/>
<text x="340.4" y="572.1" font-size="8.4" text-anchor="start" fill="#111111" color="#111111">HbAA-20 mg/kg</text>
<line x1="106" y1="580.2" x2="387.1" y2="580.2" stroke="#333" stroke-width="1.1"/>
<text x="246.4" y="594" font-size="8.2" text-anchor="middle" fill="#111111" color="#111111">Female - PEA</text>
</svg></body></html>
